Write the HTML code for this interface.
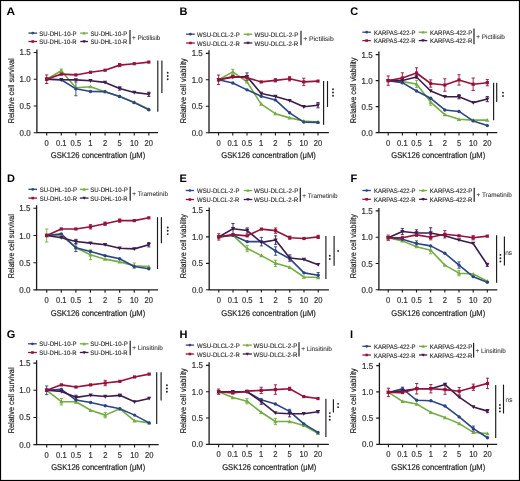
<!DOCTYPE html>
<html><head><meta charset="utf-8"><title>Figure</title>
<style>html,body{margin:0;padding:0;background:#fff;width:520px;height:481px;overflow:hidden}svg{display:block;font-family:"Liberation Sans",sans-serif;will-change:transform;text-rendering:geometricPrecision}</style>
</head><body>
<svg width="520" height="481" viewBox="0 0 520 481" font-family="Liberation Sans, sans-serif">
<rect x="0" y="0" width="520" height="481" fill="#fff"/>
<g><text x="6.4" y="14.6" font-size="11" fill="#000" textLength="8.6" lengthAdjust="spacingAndGlyphs" font-weight="bold">A</text>
<path d="M36.9 49.45V132.7H158" fill="none" stroke="#1a1a1a" stroke-width="1.3"/>
<path d="M33.7 132.7H36.9M33.7 105.95H36.9M33.7 79.2H36.9M33.7 52.45H36.9M46.7 132.7V135.5M61.29 132.7V135.5M75.88 132.7V135.5M90.47 132.7V135.5M105.06 132.7V135.5M119.65 132.7V135.5M134.24 132.7V135.5M148.83 132.7V135.5" stroke="#1a1a1a" stroke-width="1.1"/>
<text x="30.7" y="135.7" font-size="8.6" fill="#333" stroke="#333" stroke-width="0.2" text-anchor="end" textLength="11.12" lengthAdjust="spacingAndGlyphs">0.0</text>
<text x="30.7" y="108.95" font-size="8.6" fill="#333" stroke="#333" stroke-width="0.2" text-anchor="end" textLength="11.12" lengthAdjust="spacingAndGlyphs">0.5</text>
<text x="30.7" y="82.2" font-size="8.6" fill="#333" stroke="#333" stroke-width="0.2" text-anchor="end" textLength="11.12" lengthAdjust="spacingAndGlyphs">1.0</text>
<text x="30.7" y="55.45" font-size="8.6" fill="#333" stroke="#333" stroke-width="0.2" text-anchor="end" textLength="11.12" lengthAdjust="spacingAndGlyphs">1.5</text>
<text x="46.7" y="145.7" font-size="8.6" fill="#333" stroke="#333" stroke-width="0.2" text-anchor="middle" textLength="4.21" lengthAdjust="spacingAndGlyphs">0</text>
<text x="61.29" y="145.7" font-size="8.6" fill="#333" stroke="#333" stroke-width="0.2" text-anchor="middle" textLength="10.52" lengthAdjust="spacingAndGlyphs">0.1</text>
<text x="75.88" y="145.7" font-size="8.6" fill="#333" stroke="#333" stroke-width="0.2" text-anchor="middle" textLength="10.52" lengthAdjust="spacingAndGlyphs">0.5</text>
<text x="90.47" y="145.7" font-size="8.6" fill="#333" stroke="#333" stroke-width="0.2" text-anchor="middle" textLength="4.21" lengthAdjust="spacingAndGlyphs">1</text>
<text x="105.06" y="145.7" font-size="8.6" fill="#333" stroke="#333" stroke-width="0.2" text-anchor="middle" textLength="4.21" lengthAdjust="spacingAndGlyphs">2</text>
<text x="119.65" y="145.7" font-size="8.6" fill="#333" stroke="#333" stroke-width="0.2" text-anchor="middle" textLength="4.21" lengthAdjust="spacingAndGlyphs">5</text>
<text x="134.24" y="145.7" font-size="8.6" fill="#333" stroke="#333" stroke-width="0.2" text-anchor="middle" textLength="8.42" lengthAdjust="spacingAndGlyphs">10</text>
<text x="148.83" y="145.7" font-size="8.6" fill="#333" stroke="#333" stroke-width="0.2" text-anchor="middle" textLength="8.42" lengthAdjust="spacingAndGlyphs">20</text>
<text transform="translate(14 123.3) rotate(-90)" font-size="8.2" fill="#222" stroke="#222" stroke-width="0.2" textLength="65" lengthAdjust="spacingAndGlyphs">Relative cell survival</text>
<text x="50.8" y="158" font-size="8.4" fill="#222" stroke="#222" stroke-width="0.2" textLength="94.4" lengthAdjust="spacingAndGlyphs">GSK126 concentration (μM)</text>
<path d="M28.4 33.1H37.1" stroke="#2a4486" stroke-width="1.3"/>
<circle cx="32.75" cy="33.1" r="1.36" fill="#2a4486"/>
<text x="39.3" y="35.75" font-size="6.5" fill="#222" stroke="#222" stroke-width="0.1" textLength="37.3" lengthAdjust="spacingAndGlyphs">SU-DHL-10-P</text>
<path d="M80.2 33.1H88" stroke="#74ad41" stroke-width="1.3"/>
<path d="M84.1 31.42L85.78 34.44L82.42 34.44Z" fill="#74ad41"/>
<text x="90.4" y="35.75" font-size="6.5" fill="#222" stroke="#222" stroke-width="0.1" textLength="36.8" lengthAdjust="spacingAndGlyphs">SU-DHL-10-P</text>
<path d="M28.4 41.5H37.1" stroke="#961239" stroke-width="1.3"/>
<rect x="31.47" y="40.22" width="2.56" height="2.56" fill="#961239"/>
<text x="39.3" y="44.15" font-size="6.5" fill="#222" stroke="#222" stroke-width="0.1" textLength="37.3" lengthAdjust="spacingAndGlyphs">SU-DHL-10-R</text>
<path d="M80.2 41.5H88" stroke="#3c1b4e" stroke-width="1.3"/>
<path d="M84.1 43.18L85.78 40.16L82.42 40.16Z" fill="#3c1b4e"/>
<text x="90.4" y="44.15" font-size="6.5" fill="#222" stroke="#222" stroke-width="0.1" textLength="36.8" lengthAdjust="spacingAndGlyphs">SU-DHL-10-R</text>
<path d="M130 30V44.3" stroke="#222" stroke-width="1.2"/>
<text x="132" y="39.5" font-size="6.5" fill="#333" stroke="#333" stroke-width="0.08" textLength="28.4" lengthAdjust="spacingAndGlyphs">+ Pictilisib</text>
<polyline points="46.7,79.2 61.29,70.69 75.88,87.76 90.47,86.69 105.06,91.67 119.65,96.43 134.24,102.2 148.83,109.16" fill="none" stroke="#74ad41" stroke-width="1.6" stroke-linejoin="round"/>
<polyline points="46.7,79.2 61.29,79.73 75.88,88.83 90.47,91.5 105.06,91.67 119.65,96.43 134.24,102.63 148.83,109.69" fill="none" stroke="#2a4486" stroke-width="1.6" stroke-linejoin="round"/>
<polyline points="46.7,79.2 61.29,79.73 75.88,79.9 90.47,80.8 105.06,82.41 119.65,88.51 134.24,92.41 148.83,94.29" fill="none" stroke="#3c1b4e" stroke-width="1.6" stroke-linejoin="round"/>
<polyline points="46.7,79.2 61.29,74.12 75.88,74.92 90.47,72.25 105.06,70.21 119.65,65.13 134.24,63.68 148.83,62.08" fill="none" stroke="#961239" stroke-width="1.6" stroke-linejoin="round"/>
<path d="M46.7 74.92V83.48M45.1 74.92H48.3M45.1 83.48H48.3" stroke="#961239" stroke-width="0.9" fill="none"/>
<path d="M75.88 81.88V95.78M74.28 81.88H77.48M74.28 95.78H77.48" stroke="#2a4486" stroke-width="0.9" fill="none"/>
<path d="M148.83 92.15V96.43M147.23 92.15H150.43M147.23 96.43H150.43" stroke="#3c1b4e" stroke-width="0.9" fill="none"/>
<path d="M119.65 63.52V66.73M118.05 63.52H121.25M118.05 66.73H121.25" stroke="#961239" stroke-width="0.9" fill="none"/>
<path d="M61.29 69.09V72.3M59.69 69.09H62.89M59.69 72.3H62.89" stroke="#74ad41" stroke-width="0.9" fill="none"/>
<path d="M119.65 86.9V90.11M118.05 86.9H121.25M118.05 90.11H121.25" stroke="#3c1b4e" stroke-width="0.9" fill="none"/>
<path d="M46.7 77.1L48.8 80.88L44.6 80.88Z" fill="#74ad41"/>
<path d="M61.29 68.59L63.39 72.37L59.19 72.37Z" fill="#74ad41"/>
<path d="M75.88 85.66L77.98 89.44L73.78 89.44Z" fill="#74ad41"/>
<path d="M90.47 84.59L92.57 88.37L88.37 88.37Z" fill="#74ad41"/>
<path d="M105.06 89.57L107.16 93.35L102.96 93.35Z" fill="#74ad41"/>
<path d="M119.65 94.33L121.75 98.11L117.55 98.11Z" fill="#74ad41"/>
<path d="M134.24 100.1L136.34 103.88L132.14 103.88Z" fill="#74ad41"/>
<path d="M148.83 107.06L150.93 110.84L146.73 110.84Z" fill="#74ad41"/>
<circle cx="46.7" cy="79.2" r="1.7" fill="#2a4486"/>
<circle cx="61.29" cy="79.73" r="1.7" fill="#2a4486"/>
<circle cx="75.88" cy="88.83" r="1.7" fill="#2a4486"/>
<circle cx="90.47" cy="91.5" r="1.7" fill="#2a4486"/>
<circle cx="105.06" cy="91.67" r="1.7" fill="#2a4486"/>
<circle cx="119.65" cy="96.43" r="1.7" fill="#2a4486"/>
<circle cx="134.24" cy="102.63" r="1.7" fill="#2a4486"/>
<circle cx="148.83" cy="109.69" r="1.7" fill="#2a4486"/>
<path d="M46.7 81.3L48.8 77.52L44.6 77.52Z" fill="#3c1b4e"/>
<path d="M61.29 81.83L63.39 78.05L59.19 78.05Z" fill="#3c1b4e"/>
<path d="M75.88 82L77.98 78.22L73.78 78.22Z" fill="#3c1b4e"/>
<path d="M90.47 82.9L92.57 79.12L88.37 79.12Z" fill="#3c1b4e"/>
<path d="M105.06 84.51L107.16 80.73L102.96 80.73Z" fill="#3c1b4e"/>
<path d="M119.65 90.61L121.75 86.83L117.55 86.83Z" fill="#3c1b4e"/>
<path d="M134.24 94.51L136.34 90.73L132.14 90.73Z" fill="#3c1b4e"/>
<path d="M148.83 96.39L150.93 92.61L146.73 92.61Z" fill="#3c1b4e"/>
<rect x="45.1" y="77.6" width="3.2" height="3.2" fill="#961239"/>
<rect x="59.69" y="72.52" width="3.2" height="3.2" fill="#961239"/>
<rect x="74.28" y="73.32" width="3.2" height="3.2" fill="#961239"/>
<rect x="88.87" y="70.65" width="3.2" height="3.2" fill="#961239"/>
<rect x="103.46" y="68.61" width="3.2" height="3.2" fill="#961239"/>
<rect x="118.05" y="63.53" width="3.2" height="3.2" fill="#961239"/>
<rect x="132.64" y="62.08" width="3.2" height="3.2" fill="#961239"/>
<rect x="147.23" y="60.48" width="3.2" height="3.2" fill="#961239"/>
<path d="M157.8 60.6V111.7" stroke="#1a1a1a" stroke-width="1.15"/>
<path d="M161.9 60.6V93" stroke="#1a1a1a" stroke-width="1.15"/>
<circle cx="167.7" cy="72.7" r="0.95" fill="#222"/>
<circle cx="167.7" cy="76" r="0.95" fill="#222"/>
<circle cx="167.7" cy="79.3" r="0.95" fill="#222"/></g>
<g><text x="179.4" y="14.6" font-size="11" fill="#000" font-weight="bold">B</text>
<path d="M209 50.35V132.7H328.8" fill="none" stroke="#1a1a1a" stroke-width="1.3"/>
<path d="M205.8 132.7H209M205.8 106.25H209M205.8 79.8H209M205.8 53.35H209M218.6 132.7V135.5M232.8 132.7V135.5M247 132.7V135.5M261.2 132.7V135.5M275.4 132.7V135.5M289.6 132.7V135.5M303.8 132.7V135.5M318 132.7V135.5" stroke="#1a1a1a" stroke-width="1.1"/>
<text x="202.8" y="135.7" font-size="8.6" fill="#333" stroke="#333" stroke-width="0.2" text-anchor="end" textLength="11.12" lengthAdjust="spacingAndGlyphs">0.0</text>
<text x="202.8" y="109.25" font-size="8.6" fill="#333" stroke="#333" stroke-width="0.2" text-anchor="end" textLength="11.12" lengthAdjust="spacingAndGlyphs">0.5</text>
<text x="202.8" y="82.8" font-size="8.6" fill="#333" stroke="#333" stroke-width="0.2" text-anchor="end" textLength="11.12" lengthAdjust="spacingAndGlyphs">1.0</text>
<text x="202.8" y="56.35" font-size="8.6" fill="#333" stroke="#333" stroke-width="0.2" text-anchor="end" textLength="11.12" lengthAdjust="spacingAndGlyphs">1.5</text>
<text x="218.6" y="145.7" font-size="8.6" fill="#333" stroke="#333" stroke-width="0.2" text-anchor="middle" textLength="4.21" lengthAdjust="spacingAndGlyphs">0</text>
<text x="232.8" y="145.7" font-size="8.6" fill="#333" stroke="#333" stroke-width="0.2" text-anchor="middle" textLength="10.52" lengthAdjust="spacingAndGlyphs">0.1</text>
<text x="247" y="145.7" font-size="8.6" fill="#333" stroke="#333" stroke-width="0.2" text-anchor="middle" textLength="10.52" lengthAdjust="spacingAndGlyphs">0.5</text>
<text x="261.2" y="145.7" font-size="8.6" fill="#333" stroke="#333" stroke-width="0.2" text-anchor="middle" textLength="4.21" lengthAdjust="spacingAndGlyphs">1</text>
<text x="275.4" y="145.7" font-size="8.6" fill="#333" stroke="#333" stroke-width="0.2" text-anchor="middle" textLength="4.21" lengthAdjust="spacingAndGlyphs">2</text>
<text x="289.6" y="145.7" font-size="8.6" fill="#333" stroke="#333" stroke-width="0.2" text-anchor="middle" textLength="4.21" lengthAdjust="spacingAndGlyphs">5</text>
<text x="303.8" y="145.7" font-size="8.6" fill="#333" stroke="#333" stroke-width="0.2" text-anchor="middle" textLength="8.42" lengthAdjust="spacingAndGlyphs">10</text>
<text x="318" y="145.7" font-size="8.6" fill="#333" stroke="#333" stroke-width="0.2" text-anchor="middle" textLength="8.42" lengthAdjust="spacingAndGlyphs">20</text>
<text transform="translate(186.3 123.2) rotate(-90)" font-size="8.2" fill="#222" stroke="#222" stroke-width="0.2" textLength="64.9" lengthAdjust="spacingAndGlyphs">Relative cell viability</text>
<text x="221.3" y="158" font-size="8.4" fill="#222" stroke="#222" stroke-width="0.2" textLength="94.6" lengthAdjust="spacingAndGlyphs">GSK126 concentration (μM)</text>
<path d="M186.1 34.2H194.8" stroke="#2a4486" stroke-width="1.3"/>
<circle cx="190.45" cy="34.2" r="1.36" fill="#2a4486"/>
<text x="197" y="36.85" font-size="6.5" fill="#222" stroke="#222" stroke-width="0.1" textLength="42.7" lengthAdjust="spacingAndGlyphs">WSU-DLCL-2-P</text>
<path d="M243.7 34.2H252.3" stroke="#74ad41" stroke-width="1.3"/>
<path d="M248 32.52L249.68 35.54L246.32 35.54Z" fill="#74ad41"/>
<text x="254.4" y="36.85" font-size="6.5" fill="#222" stroke="#222" stroke-width="0.1" textLength="43.9" lengthAdjust="spacingAndGlyphs">WSU-DLCL-2-P</text>
<path d="M186.1 43H194.8" stroke="#961239" stroke-width="1.3"/>
<rect x="189.17" y="41.72" width="2.56" height="2.56" fill="#961239"/>
<text x="197" y="45.65" font-size="6.5" fill="#222" stroke="#222" stroke-width="0.1" textLength="42.7" lengthAdjust="spacingAndGlyphs">WSU-DLCL-2-R</text>
<path d="M243.7 43H252.3" stroke="#3c1b4e" stroke-width="1.3"/>
<path d="M248 44.68L249.68 41.66L246.32 41.66Z" fill="#3c1b4e"/>
<text x="254.4" y="45.65" font-size="6.5" fill="#222" stroke="#222" stroke-width="0.1" textLength="43.9" lengthAdjust="spacingAndGlyphs">WSU-DLCL-2-R</text>
<path d="M301 30.8V45.2" stroke="#222" stroke-width="1.2"/>
<text x="303.2" y="40.8" font-size="6.5" fill="#333" stroke="#333" stroke-width="0.08" textLength="30.5" lengthAdjust="spacingAndGlyphs">+ Pictilisib</text>
<polyline points="218.6,79.8 232.8,71.86 247,81.92 261.2,104.13 275.4,113.66 289.6,117.89 303.8,121.06 318,122.12" fill="none" stroke="#74ad41" stroke-width="1.6" stroke-linejoin="round"/>
<polyline points="218.6,79.8 232.8,82.97 247,89.85 261.2,96.2 275.4,99.9 289.6,112.81 303.8,122.12 318,122.38" fill="none" stroke="#2a4486" stroke-width="1.6" stroke-linejoin="round"/>
<polyline points="218.6,79.8 232.8,77.15 247,76.63 261.2,93.55 275.4,96.41 289.6,100.59 303.8,106.78 318,105.19" fill="none" stroke="#3c1b4e" stroke-width="1.6" stroke-linejoin="round"/>
<polyline points="218.6,79.8 232.8,76.63 247,77.68 261.2,81.92 275.4,80.33 289.6,78.74 303.8,81.92 318,81.12" fill="none" stroke="#961239" stroke-width="1.6" stroke-linejoin="round"/>
<path d="M218.6 75.04V84.56M217 75.04H220.2M217 84.56H220.2" stroke="#961239" stroke-width="0.9" fill="none"/>
<path d="M232.8 69.22V74.51M231.2 69.22H234.4M231.2 74.51H234.4" stroke="#74ad41" stroke-width="0.9" fill="none"/>
<path d="M247 72.92V80.33M245.4 72.92H248.6M245.4 80.33H248.6" stroke="#3c1b4e" stroke-width="0.9" fill="none"/>
<path d="M303.8 78.21V85.62M302.2 78.21H305.4M302.2 85.62H305.4" stroke="#961239" stroke-width="0.9" fill="none"/>
<path d="M318 102.55V107.84M316.4 102.55H319.6M316.4 107.84H319.6" stroke="#3c1b4e" stroke-width="0.9" fill="none"/>
<path d="M289.6 76.63V80.86M288 76.63H291.2M288 80.86H291.2" stroke="#961239" stroke-width="0.9" fill="none"/>
<path d="M275.4 78.74V81.92M273.8 78.74H277M273.8 81.92H277" stroke="#961239" stroke-width="0.9" fill="none"/>
<path d="M218.6 77.7L220.7 81.48L216.5 81.48Z" fill="#74ad41"/>
<path d="M232.8 69.77L234.9 73.55L230.7 73.55Z" fill="#74ad41"/>
<path d="M247 79.82L249.1 83.6L244.9 83.6Z" fill="#74ad41"/>
<path d="M261.2 102.03L263.3 105.81L259.1 105.81Z" fill="#74ad41"/>
<path d="M275.4 111.56L277.5 115.34L273.3 115.34Z" fill="#74ad41"/>
<path d="M289.6 115.79L291.7 119.57L287.5 119.57Z" fill="#74ad41"/>
<path d="M303.8 118.96L305.9 122.74L301.7 122.74Z" fill="#74ad41"/>
<path d="M318 120.02L320.1 123.8L315.9 123.8Z" fill="#74ad41"/>
<circle cx="218.6" cy="79.8" r="1.7" fill="#2a4486"/>
<circle cx="232.8" cy="82.97" r="1.7" fill="#2a4486"/>
<circle cx="247" cy="89.85" r="1.7" fill="#2a4486"/>
<circle cx="261.2" cy="96.2" r="1.7" fill="#2a4486"/>
<circle cx="275.4" cy="99.9" r="1.7" fill="#2a4486"/>
<circle cx="289.6" cy="112.81" r="1.7" fill="#2a4486"/>
<circle cx="303.8" cy="122.12" r="1.7" fill="#2a4486"/>
<circle cx="318" cy="122.38" r="1.7" fill="#2a4486"/>
<path d="M218.6 81.9L220.7 78.12L216.5 78.12Z" fill="#3c1b4e"/>
<path d="M232.8 79.25L234.9 75.47L230.7 75.47Z" fill="#3c1b4e"/>
<path d="M247 78.73L249.1 74.95L244.9 74.95Z" fill="#3c1b4e"/>
<path d="M261.2 95.65L263.3 91.87L259.1 91.87Z" fill="#3c1b4e"/>
<path d="M275.4 98.51L277.5 94.73L273.3 94.73Z" fill="#3c1b4e"/>
<path d="M289.6 102.69L291.7 98.91L287.5 98.91Z" fill="#3c1b4e"/>
<path d="M303.8 108.88L305.9 105.1L301.7 105.1Z" fill="#3c1b4e"/>
<path d="M318 107.29L320.1 103.51L315.9 103.51Z" fill="#3c1b4e"/>
<rect x="217" y="78.2" width="3.2" height="3.2" fill="#961239"/>
<rect x="231.2" y="75.03" width="3.2" height="3.2" fill="#961239"/>
<rect x="245.4" y="76.08" width="3.2" height="3.2" fill="#961239"/>
<rect x="259.6" y="80.32" width="3.2" height="3.2" fill="#961239"/>
<rect x="273.8" y="78.73" width="3.2" height="3.2" fill="#961239"/>
<rect x="288" y="77.14" width="3.2" height="3.2" fill="#961239"/>
<rect x="302.2" y="80.32" width="3.2" height="3.2" fill="#961239"/>
<rect x="316.4" y="79.52" width="3.2" height="3.2" fill="#961239"/>
<path d="M323.6 81.1V124.8" stroke="#1a1a1a" stroke-width="1.15"/>
<path d="M327.5 81.1V106.9" stroke="#1a1a1a" stroke-width="1.15"/>
<circle cx="333" cy="89.2" r="0.95" fill="#222"/>
<circle cx="333" cy="92.5" r="0.95" fill="#222"/>
<circle cx="333" cy="95.8" r="0.95" fill="#222"/></g>
<g><text x="350.2" y="14.8" font-size="11" fill="#000" font-weight="bold">C</text>
<path d="M378.9 51.6V132.6H497.3" fill="none" stroke="#1a1a1a" stroke-width="1.3"/>
<path d="M375.7 132.6H378.9M375.7 106.6H378.9M375.7 80.6H378.9M375.7 54.6H378.9M388.2 132.6V135.4M402.36 132.6V135.4M416.52 132.6V135.4M430.68 132.6V135.4M444.84 132.6V135.4M459 132.6V135.4M473.16 132.6V135.4M487.32 132.6V135.4" stroke="#1a1a1a" stroke-width="1.1"/>
<text x="372.7" y="135.6" font-size="8.6" fill="#333" stroke="#333" stroke-width="0.2" text-anchor="end" textLength="11.12" lengthAdjust="spacingAndGlyphs">0.0</text>
<text x="372.7" y="109.6" font-size="8.6" fill="#333" stroke="#333" stroke-width="0.2" text-anchor="end" textLength="11.12" lengthAdjust="spacingAndGlyphs">0.5</text>
<text x="372.7" y="83.6" font-size="8.6" fill="#333" stroke="#333" stroke-width="0.2" text-anchor="end" textLength="11.12" lengthAdjust="spacingAndGlyphs">1.0</text>
<text x="372.7" y="57.6" font-size="8.6" fill="#333" stroke="#333" stroke-width="0.2" text-anchor="end" textLength="11.12" lengthAdjust="spacingAndGlyphs">1.5</text>
<text x="388.2" y="145.6" font-size="8.6" fill="#333" stroke="#333" stroke-width="0.2" text-anchor="middle" textLength="4.21" lengthAdjust="spacingAndGlyphs">0</text>
<text x="402.36" y="145.6" font-size="8.6" fill="#333" stroke="#333" stroke-width="0.2" text-anchor="middle" textLength="10.52" lengthAdjust="spacingAndGlyphs">0.1</text>
<text x="416.52" y="145.6" font-size="8.6" fill="#333" stroke="#333" stroke-width="0.2" text-anchor="middle" textLength="10.52" lengthAdjust="spacingAndGlyphs">0.5</text>
<text x="430.68" y="145.6" font-size="8.6" fill="#333" stroke="#333" stroke-width="0.2" text-anchor="middle" textLength="4.21" lengthAdjust="spacingAndGlyphs">1</text>
<text x="444.84" y="145.6" font-size="8.6" fill="#333" stroke="#333" stroke-width="0.2" text-anchor="middle" textLength="4.21" lengthAdjust="spacingAndGlyphs">2</text>
<text x="459" y="145.6" font-size="8.6" fill="#333" stroke="#333" stroke-width="0.2" text-anchor="middle" textLength="4.21" lengthAdjust="spacingAndGlyphs">5</text>
<text x="473.16" y="145.6" font-size="8.6" fill="#333" stroke="#333" stroke-width="0.2" text-anchor="middle" textLength="8.42" lengthAdjust="spacingAndGlyphs">10</text>
<text x="487.32" y="145.6" font-size="8.6" fill="#333" stroke="#333" stroke-width="0.2" text-anchor="middle" textLength="8.42" lengthAdjust="spacingAndGlyphs">20</text>
<text transform="translate(355.9 123.2) rotate(-90)" font-size="8.2" fill="#222" stroke="#222" stroke-width="0.2" textLength="65.7" lengthAdjust="spacingAndGlyphs">Relative cell viability</text>
<text x="391.3" y="158" font-size="8.4" fill="#222" stroke="#222" stroke-width="0.2" textLength="93.9" lengthAdjust="spacingAndGlyphs">GSK126 concentration (μM)</text>
<path d="M362.4 32.2H370.9" stroke="#2a4486" stroke-width="1.3"/>
<circle cx="366.65" cy="32.2" r="1.36" fill="#2a4486"/>
<text x="374" y="34.85" font-size="6.5" fill="#222" stroke="#222" stroke-width="0.1" textLength="41.4" lengthAdjust="spacingAndGlyphs">KARPAS-422-P</text>
<path d="M418.7 32.2H427.3" stroke="#74ad41" stroke-width="1.3"/>
<path d="M423 30.52L424.68 33.54L421.32 33.54Z" fill="#74ad41"/>
<text x="430" y="34.85" font-size="6.5" fill="#222" stroke="#222" stroke-width="0.1" textLength="42.3" lengthAdjust="spacingAndGlyphs">KARPAS-422-P</text>
<path d="M362.4 40.6H370.9" stroke="#961239" stroke-width="1.3"/>
<rect x="365.37" y="39.32" width="2.56" height="2.56" fill="#961239"/>
<text x="374" y="43.25" font-size="6.5" fill="#222" stroke="#222" stroke-width="0.1" textLength="41.4" lengthAdjust="spacingAndGlyphs">KARPAS-422-R</text>
<path d="M418.7 40.6H427.3" stroke="#3c1b4e" stroke-width="1.3"/>
<path d="M423 42.28L424.68 39.26L421.32 39.26Z" fill="#3c1b4e"/>
<text x="430" y="43.25" font-size="6.5" fill="#222" stroke="#222" stroke-width="0.1" textLength="42.3" lengthAdjust="spacingAndGlyphs">KARPAS-422-R</text>
<path d="M474 28.5V44.2" stroke="#222" stroke-width="1.2"/>
<text x="476.2" y="38.6" font-size="6.5" fill="#333" stroke="#333" stroke-width="0.08" textLength="28.7" lengthAdjust="spacingAndGlyphs">+ Pictilisib</text>
<polyline points="388.2,80.6 402.36,81.64 416.52,83.98 430.68,102.08 444.84,114.66 459,119.24 473.16,120.12 487.32,120.12" fill="none" stroke="#74ad41" stroke-width="1.6" stroke-linejoin="round"/>
<polyline points="388.2,80.6 402.36,82.68 416.52,91 430.68,98.28 444.84,109.93 459,111.44 473.16,120.9 487.32,125.58" fill="none" stroke="#2a4486" stroke-width="1.6" stroke-linejoin="round"/>
<polyline points="388.2,80.6 402.36,80.6 416.52,76.96 430.68,91 444.84,96.72 459,96.72 473.16,102.6 487.32,99.06" fill="none" stroke="#3c1b4e" stroke-width="1.6" stroke-linejoin="round"/>
<polyline points="388.2,80.6 402.36,78 416.52,73.01 430.68,83.51 444.84,85.02 459,79.92 473.16,84.24 487.32,82.68" fill="none" stroke="#961239" stroke-width="1.6" stroke-linejoin="round"/>
<path d="M388.2 75.92V85.28M386.6 75.92H389.8M386.6 85.28H389.8" stroke="#961239" stroke-width="0.9" fill="none"/>
<path d="M402.36 72.8V83.2M400.76 72.8H403.96M400.76 83.2H403.96" stroke="#961239" stroke-width="0.9" fill="none"/>
<path d="M416.52 67.81V78.21M414.92 67.81H418.12M414.92 78.21H418.12" stroke="#961239" stroke-width="0.9" fill="none"/>
<path d="M416.52 80.34V87.62M414.92 80.34H418.12M414.92 87.62H418.12" stroke="#74ad41" stroke-width="0.9" fill="none"/>
<path d="M430.68 79.87V87.15M429.08 79.87H432.28M429.08 87.15H432.28" stroke="#961239" stroke-width="0.9" fill="none"/>
<path d="M430.68 98.96V105.2M429.08 98.96H432.28M429.08 105.2H432.28" stroke="#74ad41" stroke-width="0.9" fill="none"/>
<path d="M444.84 78.78V91.26M443.24 78.78H446.44M443.24 91.26H446.44" stroke="#961239" stroke-width="0.9" fill="none"/>
<path d="M459 74.72V85.12M457.4 74.72H460.6M457.4 85.12H460.6" stroke="#961239" stroke-width="0.9" fill="none"/>
<path d="M473.16 78V90.48M471.56 78H474.76M471.56 90.48H474.76" stroke="#961239" stroke-width="0.9" fill="none"/>
<path d="M487.32 79.56V85.8M485.72 79.56H488.92M485.72 85.8H488.92" stroke="#961239" stroke-width="0.9" fill="none"/>
<path d="M487.32 96.46V101.66M485.72 96.46H488.92M485.72 101.66H488.92" stroke="#3c1b4e" stroke-width="0.9" fill="none"/>
<path d="M459 94.64V98.8M457.4 94.64H460.6M457.4 98.8H460.6" stroke="#3c1b4e" stroke-width="0.9" fill="none"/>
<path d="M388.2 78.5L390.3 82.28L386.1 82.28Z" fill="#74ad41"/>
<path d="M402.36 79.54L404.46 83.32L400.26 83.32Z" fill="#74ad41"/>
<path d="M416.52 81.88L418.62 85.66L414.42 85.66Z" fill="#74ad41"/>
<path d="M430.68 99.98L432.78 103.76L428.58 103.76Z" fill="#74ad41"/>
<path d="M444.84 112.56L446.94 116.34L442.74 116.34Z" fill="#74ad41"/>
<path d="M459 117.14L461.1 120.92L456.9 120.92Z" fill="#74ad41"/>
<path d="M473.16 118.02L475.26 121.8L471.06 121.8Z" fill="#74ad41"/>
<path d="M487.32 118.02L489.42 121.8L485.22 121.8Z" fill="#74ad41"/>
<circle cx="388.2" cy="80.6" r="1.7" fill="#2a4486"/>
<circle cx="402.36" cy="82.68" r="1.7" fill="#2a4486"/>
<circle cx="416.52" cy="91" r="1.7" fill="#2a4486"/>
<circle cx="430.68" cy="98.28" r="1.7" fill="#2a4486"/>
<circle cx="444.84" cy="109.93" r="1.7" fill="#2a4486"/>
<circle cx="459" cy="111.44" r="1.7" fill="#2a4486"/>
<circle cx="473.16" cy="120.9" r="1.7" fill="#2a4486"/>
<circle cx="487.32" cy="125.58" r="1.7" fill="#2a4486"/>
<path d="M388.2 82.7L390.3 78.92L386.1 78.92Z" fill="#3c1b4e"/>
<path d="M402.36 82.7L404.46 78.92L400.26 78.92Z" fill="#3c1b4e"/>
<path d="M416.52 79.06L418.62 75.28L414.42 75.28Z" fill="#3c1b4e"/>
<path d="M430.68 93.1L432.78 89.32L428.58 89.32Z" fill="#3c1b4e"/>
<path d="M444.84 98.82L446.94 95.04L442.74 95.04Z" fill="#3c1b4e"/>
<path d="M459 98.82L461.1 95.04L456.9 95.04Z" fill="#3c1b4e"/>
<path d="M473.16 104.7L475.26 100.92L471.06 100.92Z" fill="#3c1b4e"/>
<path d="M487.32 101.16L489.42 97.38L485.22 97.38Z" fill="#3c1b4e"/>
<rect x="386.6" y="79" width="3.2" height="3.2" fill="#961239"/>
<rect x="400.76" y="76.4" width="3.2" height="3.2" fill="#961239"/>
<rect x="414.92" y="71.41" width="3.2" height="3.2" fill="#961239"/>
<rect x="429.08" y="81.91" width="3.2" height="3.2" fill="#961239"/>
<rect x="443.24" y="83.42" width="3.2" height="3.2" fill="#961239"/>
<rect x="457.4" y="78.32" width="3.2" height="3.2" fill="#961239"/>
<rect x="471.56" y="82.64" width="3.2" height="3.2" fill="#961239"/>
<rect x="485.72" y="81.08" width="3.2" height="3.2" fill="#961239"/>
<path d="M493.6 82.7V120.2" stroke="#1a1a1a" stroke-width="1.15"/>
<path d="M496.7 82.7V101.9" stroke="#1a1a1a" stroke-width="1.15"/>
<circle cx="503" cy="92.65" r="0.95" fill="#222"/>
<circle cx="503" cy="95.95" r="0.95" fill="#222"/></g>
<g><text x="7" y="181.5" font-size="11" fill="#000" font-weight="bold">D</text>
<path d="M36.6 205.3V289.9H158" fill="none" stroke="#1a1a1a" stroke-width="1.3"/>
<path d="M33.4 289.9H36.6M33.4 262.7H36.6M33.4 235.5H36.6M33.4 208.3H36.6M46.7 289.9V292.7M61.29 289.9V292.7M75.88 289.9V292.7M90.47 289.9V292.7M105.06 289.9V292.7M119.65 289.9V292.7M134.24 289.9V292.7M148.83 289.9V292.7" stroke="#1a1a1a" stroke-width="1.1"/>
<text x="30.4" y="292.9" font-size="8.6" fill="#333" stroke="#333" stroke-width="0.2" text-anchor="end" textLength="11.12" lengthAdjust="spacingAndGlyphs">0.0</text>
<text x="30.4" y="265.7" font-size="8.6" fill="#333" stroke="#333" stroke-width="0.2" text-anchor="end" textLength="11.12" lengthAdjust="spacingAndGlyphs">0.5</text>
<text x="30.4" y="238.5" font-size="8.6" fill="#333" stroke="#333" stroke-width="0.2" text-anchor="end" textLength="11.12" lengthAdjust="spacingAndGlyphs">1.0</text>
<text x="30.4" y="211.3" font-size="8.6" fill="#333" stroke="#333" stroke-width="0.2" text-anchor="end" textLength="11.12" lengthAdjust="spacingAndGlyphs">1.5</text>
<text x="46.7" y="302.9" font-size="8.6" fill="#333" stroke="#333" stroke-width="0.2" text-anchor="middle" textLength="4.21" lengthAdjust="spacingAndGlyphs">0</text>
<text x="61.29" y="302.9" font-size="8.6" fill="#333" stroke="#333" stroke-width="0.2" text-anchor="middle" textLength="10.52" lengthAdjust="spacingAndGlyphs">0.1</text>
<text x="75.88" y="302.9" font-size="8.6" fill="#333" stroke="#333" stroke-width="0.2" text-anchor="middle" textLength="10.52" lengthAdjust="spacingAndGlyphs">0.5</text>
<text x="90.47" y="302.9" font-size="8.6" fill="#333" stroke="#333" stroke-width="0.2" text-anchor="middle" textLength="4.21" lengthAdjust="spacingAndGlyphs">1</text>
<text x="105.06" y="302.9" font-size="8.6" fill="#333" stroke="#333" stroke-width="0.2" text-anchor="middle" textLength="4.21" lengthAdjust="spacingAndGlyphs">2</text>
<text x="119.65" y="302.9" font-size="8.6" fill="#333" stroke="#333" stroke-width="0.2" text-anchor="middle" textLength="4.21" lengthAdjust="spacingAndGlyphs">5</text>
<text x="134.24" y="302.9" font-size="8.6" fill="#333" stroke="#333" stroke-width="0.2" text-anchor="middle" textLength="8.42" lengthAdjust="spacingAndGlyphs">10</text>
<text x="148.83" y="302.9" font-size="8.6" fill="#333" stroke="#333" stroke-width="0.2" text-anchor="middle" textLength="8.42" lengthAdjust="spacingAndGlyphs">20</text>
<text transform="translate(14.3 278.2) rotate(-90)" font-size="8.2" fill="#222" stroke="#222" stroke-width="0.2" textLength="64" lengthAdjust="spacingAndGlyphs">Relative cell survival</text>
<text x="50.8" y="315.5" font-size="8.4" fill="#222" stroke="#222" stroke-width="0.2" textLength="94.4" lengthAdjust="spacingAndGlyphs">GSK126 concentration (μM)</text>
<path d="M28.4 189.3H37.1" stroke="#2a4486" stroke-width="1.3"/>
<circle cx="32.75" cy="189.3" r="1.36" fill="#2a4486"/>
<text x="39.7" y="191.95" font-size="6.5" fill="#222" stroke="#222" stroke-width="0.1" textLength="37.3" lengthAdjust="spacingAndGlyphs">SU-DHL-10-P</text>
<path d="M79.8 189.3H88.5" stroke="#74ad41" stroke-width="1.3"/>
<path d="M84.15 187.62L85.83 190.64L82.47 190.64Z" fill="#74ad41"/>
<text x="90.2" y="191.95" font-size="6.5" fill="#222" stroke="#222" stroke-width="0.1" textLength="37.5" lengthAdjust="spacingAndGlyphs">SU-DHL-10-P</text>
<path d="M28.4 198.1H37.1" stroke="#961239" stroke-width="1.3"/>
<rect x="31.47" y="196.82" width="2.56" height="2.56" fill="#961239"/>
<text x="39.7" y="200.75" font-size="6.5" fill="#222" stroke="#222" stroke-width="0.1" textLength="37.3" lengthAdjust="spacingAndGlyphs">SU-DHL-10-R</text>
<path d="M79.8 198.1H88.5" stroke="#3c1b4e" stroke-width="1.3"/>
<path d="M84.15 199.78L85.83 196.76L82.47 196.76Z" fill="#3c1b4e"/>
<text x="90.2" y="200.75" font-size="6.5" fill="#222" stroke="#222" stroke-width="0.1" textLength="37.5" lengthAdjust="spacingAndGlyphs">SU-DHL-10-R</text>
<path d="M130.2 186.7V200.8" stroke="#222" stroke-width="1.2"/>
<text x="132.2" y="196" font-size="6.5" fill="#333" stroke="#333" stroke-width="0.08" textLength="35.8" lengthAdjust="spacingAndGlyphs">+ Trametinib</text>
<polyline points="46.7,235.5 61.29,235.5 75.88,247.74 90.47,254.81 105.06,259.16 119.65,261.88 134.24,265.69 148.83,266.51" fill="none" stroke="#74ad41" stroke-width="1.6" stroke-linejoin="round"/>
<polyline points="46.7,235.5 61.29,233.87 75.88,247.74 90.47,251.55 105.06,255.63 119.65,258.73 134.24,266.51 148.83,268.68" fill="none" stroke="#2a4486" stroke-width="1.6" stroke-linejoin="round"/>
<polyline points="46.7,235.5 61.29,237.68 75.88,241.48 90.47,243.12 105.06,244.75 119.65,248.28 134.24,248.88 148.83,244.75" fill="none" stroke="#3c1b4e" stroke-width="1.6" stroke-linejoin="round"/>
<polyline points="46.7,235.5 61.29,228.97 75.88,228.97 90.47,226.8 105.06,223.7 119.65,220.59 134.24,220.59 148.83,217.82" fill="none" stroke="#961239" stroke-width="1.6" stroke-linejoin="round"/>
<path d="M46.7 228.97V242.03M45.1 228.97H48.3M45.1 242.03H48.3" stroke="#74ad41" stroke-width="0.9" fill="none"/>
<path d="M75.88 243.93V251.55M74.28 243.93H77.48M74.28 251.55H77.48" stroke="#2a4486" stroke-width="0.9" fill="none"/>
<path d="M90.47 249.92V259.71M88.87 249.92H92.07M88.87 259.71H92.07" stroke="#74ad41" stroke-width="0.9" fill="none"/>
<path d="M90.47 224.62V228.97M88.87 224.62H92.07M88.87 228.97H92.07" stroke="#961239" stroke-width="0.9" fill="none"/>
<path d="M134.24 262.97V268.41M132.64 262.97H135.84M132.64 268.41H135.84" stroke="#74ad41" stroke-width="0.9" fill="none"/>
<path d="M148.83 242.57V246.92M147.23 242.57H150.43M147.23 246.92H150.43" stroke="#3c1b4e" stroke-width="0.9" fill="none"/>
<path d="M105.06 222.06V225.33M103.46 222.06H106.66M103.46 225.33H106.66" stroke="#961239" stroke-width="0.9" fill="none"/>
<path d="M119.65 218.96V222.23M118.05 218.96H121.25M118.05 222.23H121.25" stroke="#961239" stroke-width="0.9" fill="none"/>
<path d="M75.88 239.31V243.66M74.28 239.31H77.48M74.28 243.66H77.48" stroke="#3c1b4e" stroke-width="0.9" fill="none"/>
<path d="M46.7 233.4L48.8 237.18L44.6 237.18Z" fill="#74ad41"/>
<path d="M61.29 233.4L63.39 237.18L59.19 237.18Z" fill="#74ad41"/>
<path d="M75.88 245.64L77.98 249.42L73.78 249.42Z" fill="#74ad41"/>
<path d="M90.47 252.71L92.57 256.49L88.37 256.49Z" fill="#74ad41"/>
<path d="M105.06 257.06L107.16 260.84L102.96 260.84Z" fill="#74ad41"/>
<path d="M119.65 259.78L121.75 263.56L117.55 263.56Z" fill="#74ad41"/>
<path d="M134.24 263.59L136.34 267.37L132.14 267.37Z" fill="#74ad41"/>
<path d="M148.83 264.41L150.93 268.19L146.73 268.19Z" fill="#74ad41"/>
<circle cx="46.7" cy="235.5" r="1.7" fill="#2a4486"/>
<circle cx="61.29" cy="233.87" r="1.7" fill="#2a4486"/>
<circle cx="75.88" cy="247.74" r="1.7" fill="#2a4486"/>
<circle cx="90.47" cy="251.55" r="1.7" fill="#2a4486"/>
<circle cx="105.06" cy="255.63" r="1.7" fill="#2a4486"/>
<circle cx="119.65" cy="258.73" r="1.7" fill="#2a4486"/>
<circle cx="134.24" cy="266.51" r="1.7" fill="#2a4486"/>
<circle cx="148.83" cy="268.68" r="1.7" fill="#2a4486"/>
<path d="M46.7 237.6L48.8 233.82L44.6 233.82Z" fill="#3c1b4e"/>
<path d="M61.29 239.78L63.39 236L59.19 236Z" fill="#3c1b4e"/>
<path d="M75.88 243.58L77.98 239.8L73.78 239.8Z" fill="#3c1b4e"/>
<path d="M90.47 245.22L92.57 241.44L88.37 241.44Z" fill="#3c1b4e"/>
<path d="M105.06 246.85L107.16 243.07L102.96 243.07Z" fill="#3c1b4e"/>
<path d="M119.65 250.38L121.75 246.6L117.55 246.6Z" fill="#3c1b4e"/>
<path d="M134.24 250.98L136.34 247.2L132.14 247.2Z" fill="#3c1b4e"/>
<path d="M148.83 246.85L150.93 243.07L146.73 243.07Z" fill="#3c1b4e"/>
<rect x="45.1" y="233.9" width="3.2" height="3.2" fill="#961239"/>
<rect x="59.69" y="227.37" width="3.2" height="3.2" fill="#961239"/>
<rect x="74.28" y="227.37" width="3.2" height="3.2" fill="#961239"/>
<rect x="88.87" y="225.2" width="3.2" height="3.2" fill="#961239"/>
<rect x="103.46" y="222.1" width="3.2" height="3.2" fill="#961239"/>
<rect x="118.05" y="218.99" width="3.2" height="3.2" fill="#961239"/>
<rect x="132.64" y="218.99" width="3.2" height="3.2" fill="#961239"/>
<rect x="147.23" y="216.22" width="3.2" height="3.2" fill="#961239"/>
<path d="M157.5 217.2V269.1" stroke="#1a1a1a" stroke-width="1.15"/>
<path d="M161.4 217.2V243.3" stroke="#1a1a1a" stroke-width="1.15"/>
<circle cx="167.7" cy="227.5" r="0.95" fill="#222"/>
<circle cx="167.7" cy="230.8" r="0.95" fill="#222"/>
<circle cx="167.7" cy="234.1" r="0.95" fill="#222"/></g>
<g><text x="179.6" y="181.5" font-size="11" fill="#000" font-weight="bold">E</text>
<path d="M209.2 207.45V289.8H328.9" fill="none" stroke="#1a1a1a" stroke-width="1.3"/>
<path d="M206 289.8H209.2M206 263.35H209.2M206 236.9H209.2M206 210.45H209.2M218.8 289.8V292.6M233 289.8V292.6M247.2 289.8V292.6M261.4 289.8V292.6M275.6 289.8V292.6M289.8 289.8V292.6M304 289.8V292.6M318.2 289.8V292.6" stroke="#1a1a1a" stroke-width="1.1"/>
<text x="203" y="292.8" font-size="8.6" fill="#333" stroke="#333" stroke-width="0.2" text-anchor="end" textLength="11.12" lengthAdjust="spacingAndGlyphs">0.0</text>
<text x="203" y="266.35" font-size="8.6" fill="#333" stroke="#333" stroke-width="0.2" text-anchor="end" textLength="11.12" lengthAdjust="spacingAndGlyphs">0.5</text>
<text x="203" y="239.9" font-size="8.6" fill="#333" stroke="#333" stroke-width="0.2" text-anchor="end" textLength="11.12" lengthAdjust="spacingAndGlyphs">1.0</text>
<text x="203" y="213.45" font-size="8.6" fill="#333" stroke="#333" stroke-width="0.2" text-anchor="end" textLength="11.12" lengthAdjust="spacingAndGlyphs">1.5</text>
<text x="218.8" y="302.8" font-size="8.6" fill="#333" stroke="#333" stroke-width="0.2" text-anchor="middle" textLength="4.21" lengthAdjust="spacingAndGlyphs">0</text>
<text x="233" y="302.8" font-size="8.6" fill="#333" stroke="#333" stroke-width="0.2" text-anchor="middle" textLength="10.52" lengthAdjust="spacingAndGlyphs">0.1</text>
<text x="247.2" y="302.8" font-size="8.6" fill="#333" stroke="#333" stroke-width="0.2" text-anchor="middle" textLength="10.52" lengthAdjust="spacingAndGlyphs">0.5</text>
<text x="261.4" y="302.8" font-size="8.6" fill="#333" stroke="#333" stroke-width="0.2" text-anchor="middle" textLength="4.21" lengthAdjust="spacingAndGlyphs">1</text>
<text x="275.6" y="302.8" font-size="8.6" fill="#333" stroke="#333" stroke-width="0.2" text-anchor="middle" textLength="4.21" lengthAdjust="spacingAndGlyphs">2</text>
<text x="289.8" y="302.8" font-size="8.6" fill="#333" stroke="#333" stroke-width="0.2" text-anchor="middle" textLength="4.21" lengthAdjust="spacingAndGlyphs">5</text>
<text x="304" y="302.8" font-size="8.6" fill="#333" stroke="#333" stroke-width="0.2" text-anchor="middle" textLength="8.42" lengthAdjust="spacingAndGlyphs">10</text>
<text x="318.2" y="302.8" font-size="8.6" fill="#333" stroke="#333" stroke-width="0.2" text-anchor="middle" textLength="8.42" lengthAdjust="spacingAndGlyphs">20</text>
<text transform="translate(186.3 278.2) rotate(-90)" font-size="8.2" fill="#222" stroke="#222" stroke-width="0.2" textLength="64" lengthAdjust="spacingAndGlyphs">Relative cell viability</text>
<text x="221.3" y="315.5" font-size="8.4" fill="#222" stroke="#222" stroke-width="0.2" textLength="94.6" lengthAdjust="spacingAndGlyphs">GSK126 concentration (μM)</text>
<path d="M185.7 190.5H194.1" stroke="#2a4486" stroke-width="1.3"/>
<circle cx="189.9" cy="190.5" r="1.36" fill="#2a4486"/>
<text x="197" y="193.15" font-size="6.5" fill="#222" stroke="#222" stroke-width="0.1" textLength="42.4" lengthAdjust="spacingAndGlyphs">WSU-DLCL-2-P</text>
<path d="M243.7 190.5H252.3" stroke="#74ad41" stroke-width="1.3"/>
<path d="M248 188.82L249.68 191.84L246.32 191.84Z" fill="#74ad41"/>
<text x="254" y="193.15" font-size="6.5" fill="#222" stroke="#222" stroke-width="0.1" textLength="44.3" lengthAdjust="spacingAndGlyphs">WSU-DLCL-2-P</text>
<path d="M185.7 199.5H194.1" stroke="#961239" stroke-width="1.3"/>
<rect x="188.62" y="198.22" width="2.56" height="2.56" fill="#961239"/>
<text x="197" y="202.15" font-size="6.5" fill="#222" stroke="#222" stroke-width="0.1" textLength="42.4" lengthAdjust="spacingAndGlyphs">WSU-DLCL-2-R</text>
<path d="M243.7 199.5H252.3" stroke="#3c1b4e" stroke-width="1.3"/>
<path d="M248 201.18L249.68 198.16L246.32 198.16Z" fill="#3c1b4e"/>
<text x="254" y="202.15" font-size="6.5" fill="#222" stroke="#222" stroke-width="0.1" textLength="44.3" lengthAdjust="spacingAndGlyphs">WSU-DLCL-2-R</text>
<path d="M300.3 187.8V201.8" stroke="#222" stroke-width="1.2"/>
<text x="302.3" y="197.6" font-size="6.5" fill="#333" stroke="#333" stroke-width="0.08" textLength="35.3" lengthAdjust="spacingAndGlyphs">+ Trametinib</text>
<polyline points="218.8,236.9 233,235.31 247.2,248.54 261.4,255.63 275.6,263.35 289.8,267.32 304,277 318.2,277.53" fill="none" stroke="#74ad41" stroke-width="1.6" stroke-linejoin="round"/>
<polyline points="218.8,236.9 233,235.31 247.2,241.66 261.4,241.66 275.6,251.02 289.8,258.69 304,272.87 318.2,275.2" fill="none" stroke="#2a4486" stroke-width="1.6" stroke-linejoin="round"/>
<polyline points="218.8,236.9 233,228.7 247.2,230.55 261.4,242.4 275.6,240.07 289.8,258.06 304,259.49 318.2,264.73" fill="none" stroke="#3c1b4e" stroke-width="1.6" stroke-linejoin="round"/>
<polyline points="218.8,236.9 233,234.63 247.2,235.84 261.4,229.12 275.6,230.66 289.8,237.69 304,238.49 318.2,236.9" fill="none" stroke="#961239" stroke-width="1.6" stroke-linejoin="round"/>
<path d="M218.8 233.73V240.07M217.2 233.73H220.4M217.2 240.07H220.4" stroke="#961239" stroke-width="0.9" fill="none"/>
<path d="M233 223.41V233.99M231.4 223.41H234.6M231.4 233.99H234.6" stroke="#3c1b4e" stroke-width="0.9" fill="none"/>
<path d="M247.2 227.91V233.2M245.6 227.91H248.8M245.6 233.2H248.8" stroke="#3c1b4e" stroke-width="0.9" fill="none"/>
<path d="M247.2 245.36V251.71M245.6 245.36H248.8M245.6 251.71H248.8" stroke="#74ad41" stroke-width="0.9" fill="none"/>
<path d="M261.4 237.43V245.89M259.8 237.43H263M259.8 245.89H263" stroke="#2a4486" stroke-width="0.9" fill="none"/>
<path d="M275.6 235.84V244.31M274 235.84H277.2M274 244.31H277.2" stroke="#3c1b4e" stroke-width="0.9" fill="none"/>
<path d="M275.6 246.79V255.26M274 246.79H277.2M274 255.26H277.2" stroke="#2a4486" stroke-width="0.9" fill="none"/>
<path d="M275.6 260.18V266.52M274 260.18H277.2M274 266.52H277.2" stroke="#74ad41" stroke-width="0.9" fill="none"/>
<path d="M275.6 228.01V233.3M274 228.01H277.2M274 233.3H277.2" stroke="#961239" stroke-width="0.9" fill="none"/>
<path d="M289.8 254.89V261.23M288.2 254.89H291.4M288.2 261.23H291.4" stroke="#3c1b4e" stroke-width="0.9" fill="none"/>
<path d="M318.2 272.55V277.84M316.6 272.55H319.8M316.6 277.84H319.8" stroke="#2a4486" stroke-width="0.9" fill="none"/>
<path d="M318.2 235.31V238.49M316.6 235.31H319.8M316.6 238.49H319.8" stroke="#961239" stroke-width="0.9" fill="none"/>
<path d="M289.8 236.11V239.28M288.2 236.11H291.4M288.2 239.28H291.4" stroke="#961239" stroke-width="0.9" fill="none"/>
<path d="M218.8 234.8L220.9 238.58L216.7 238.58Z" fill="#74ad41"/>
<path d="M233 233.21L235.1 236.99L230.9 236.99Z" fill="#74ad41"/>
<path d="M247.2 246.44L249.3 250.22L245.1 250.22Z" fill="#74ad41"/>
<path d="M261.4 253.53L263.5 257.31L259.3 257.31Z" fill="#74ad41"/>
<path d="M275.6 261.25L277.7 265.03L273.5 265.03Z" fill="#74ad41"/>
<path d="M289.8 265.22L291.9 269L287.7 269Z" fill="#74ad41"/>
<path d="M304 274.9L306.1 278.68L301.9 278.68Z" fill="#74ad41"/>
<path d="M318.2 275.43L320.3 279.21L316.1 279.21Z" fill="#74ad41"/>
<circle cx="218.8" cy="236.9" r="1.7" fill="#2a4486"/>
<circle cx="233" cy="235.31" r="1.7" fill="#2a4486"/>
<circle cx="247.2" cy="241.66" r="1.7" fill="#2a4486"/>
<circle cx="261.4" cy="241.66" r="1.7" fill="#2a4486"/>
<circle cx="275.6" cy="251.02" r="1.7" fill="#2a4486"/>
<circle cx="289.8" cy="258.69" r="1.7" fill="#2a4486"/>
<circle cx="304" cy="272.87" r="1.7" fill="#2a4486"/>
<circle cx="318.2" cy="275.2" r="1.7" fill="#2a4486"/>
<path d="M218.8 239L220.9 235.22L216.7 235.22Z" fill="#3c1b4e"/>
<path d="M233 230.8L235.1 227.02L230.9 227.02Z" fill="#3c1b4e"/>
<path d="M247.2 232.65L249.3 228.87L245.1 228.87Z" fill="#3c1b4e"/>
<path d="M261.4 244.5L263.5 240.72L259.3 240.72Z" fill="#3c1b4e"/>
<path d="M275.6 242.17L277.7 238.39L273.5 238.39Z" fill="#3c1b4e"/>
<path d="M289.8 260.16L291.9 256.38L287.7 256.38Z" fill="#3c1b4e"/>
<path d="M304 261.59L306.1 257.81L301.9 257.81Z" fill="#3c1b4e"/>
<path d="M318.2 266.83L320.3 263.05L316.1 263.05Z" fill="#3c1b4e"/>
<rect x="217.2" y="235.3" width="3.2" height="3.2" fill="#961239"/>
<rect x="231.4" y="233.03" width="3.2" height="3.2" fill="#961239"/>
<rect x="245.6" y="234.24" width="3.2" height="3.2" fill="#961239"/>
<rect x="259.8" y="227.52" width="3.2" height="3.2" fill="#961239"/>
<rect x="274" y="229.06" width="3.2" height="3.2" fill="#961239"/>
<rect x="288.2" y="236.09" width="3.2" height="3.2" fill="#961239"/>
<rect x="302.4" y="236.89" width="3.2" height="3.2" fill="#961239"/>
<rect x="316.6" y="235.3" width="3.2" height="3.2" fill="#961239"/>
<path d="M325.9 236.1V279.1" stroke="#1a1a1a" stroke-width="1.15"/>
<circle cx="329.8" cy="255.75" r="0.95" fill="#222"/>
<circle cx="329.8" cy="259.05" r="0.95" fill="#222"/>
<path d="M334.1 236.1V265.8" stroke="#1a1a1a" stroke-width="1.15"/>
<circle cx="338.1" cy="250.9" r="0.95" fill="#222"/></g>
<g><text x="350.6" y="181.5" font-size="11" fill="#000" font-weight="bold">F</text>
<path d="M378.9 207.9V289.8H497.3" fill="none" stroke="#1a1a1a" stroke-width="1.3"/>
<path d="M375.7 289.8H378.9M375.7 263.5H378.9M375.7 237.2H378.9M375.7 210.9H378.9M388.2 289.8V292.6M402.36 289.8V292.6M416.52 289.8V292.6M430.68 289.8V292.6M444.84 289.8V292.6M459 289.8V292.6M473.16 289.8V292.6M487.32 289.8V292.6" stroke="#1a1a1a" stroke-width="1.1"/>
<text x="372.7" y="292.8" font-size="8.6" fill="#333" stroke="#333" stroke-width="0.2" text-anchor="end" textLength="11.12" lengthAdjust="spacingAndGlyphs">0.0</text>
<text x="372.7" y="266.5" font-size="8.6" fill="#333" stroke="#333" stroke-width="0.2" text-anchor="end" textLength="11.12" lengthAdjust="spacingAndGlyphs">0.5</text>
<text x="372.7" y="240.2" font-size="8.6" fill="#333" stroke="#333" stroke-width="0.2" text-anchor="end" textLength="11.12" lengthAdjust="spacingAndGlyphs">1.0</text>
<text x="372.7" y="213.9" font-size="8.6" fill="#333" stroke="#333" stroke-width="0.2" text-anchor="end" textLength="11.12" lengthAdjust="spacingAndGlyphs">1.5</text>
<text x="388.2" y="302.8" font-size="8.6" fill="#333" stroke="#333" stroke-width="0.2" text-anchor="middle" textLength="4.21" lengthAdjust="spacingAndGlyphs">0</text>
<text x="402.36" y="302.8" font-size="8.6" fill="#333" stroke="#333" stroke-width="0.2" text-anchor="middle" textLength="10.52" lengthAdjust="spacingAndGlyphs">0.1</text>
<text x="416.52" y="302.8" font-size="8.6" fill="#333" stroke="#333" stroke-width="0.2" text-anchor="middle" textLength="10.52" lengthAdjust="spacingAndGlyphs">0.5</text>
<text x="430.68" y="302.8" font-size="8.6" fill="#333" stroke="#333" stroke-width="0.2" text-anchor="middle" textLength="4.21" lengthAdjust="spacingAndGlyphs">1</text>
<text x="444.84" y="302.8" font-size="8.6" fill="#333" stroke="#333" stroke-width="0.2" text-anchor="middle" textLength="4.21" lengthAdjust="spacingAndGlyphs">2</text>
<text x="459" y="302.8" font-size="8.6" fill="#333" stroke="#333" stroke-width="0.2" text-anchor="middle" textLength="4.21" lengthAdjust="spacingAndGlyphs">5</text>
<text x="473.16" y="302.8" font-size="8.6" fill="#333" stroke="#333" stroke-width="0.2" text-anchor="middle" textLength="8.42" lengthAdjust="spacingAndGlyphs">10</text>
<text x="487.32" y="302.8" font-size="8.6" fill="#333" stroke="#333" stroke-width="0.2" text-anchor="middle" textLength="8.42" lengthAdjust="spacingAndGlyphs">20</text>
<text transform="translate(355.9 278.2) rotate(-90)" font-size="8.2" fill="#222" stroke="#222" stroke-width="0.2" textLength="64" lengthAdjust="spacingAndGlyphs">Relative cell viability</text>
<text x="391.3" y="315.5" font-size="8.4" fill="#222" stroke="#222" stroke-width="0.2" textLength="93.9" lengthAdjust="spacingAndGlyphs">GSK126 concentration (μM)</text>
<path d="M362.4 190.5H370.9" stroke="#2a4486" stroke-width="1.3"/>
<circle cx="366.65" cy="190.5" r="1.36" fill="#2a4486"/>
<text x="374" y="193.15" font-size="6.5" fill="#222" stroke="#222" stroke-width="0.1" textLength="41.6" lengthAdjust="spacingAndGlyphs">KARPAS-422-P</text>
<path d="M419.1 190.5H427.2" stroke="#74ad41" stroke-width="1.3"/>
<path d="M423.15 188.82L424.83 191.84L421.47 191.84Z" fill="#74ad41"/>
<text x="429.8" y="193.15" font-size="6.5" fill="#222" stroke="#222" stroke-width="0.1" textLength="42.6" lengthAdjust="spacingAndGlyphs">KARPAS-422-P</text>
<path d="M362.4 199.3H370.9" stroke="#961239" stroke-width="1.3"/>
<rect x="365.37" y="198.02" width="2.56" height="2.56" fill="#961239"/>
<text x="374" y="201.95" font-size="6.5" fill="#222" stroke="#222" stroke-width="0.1" textLength="41.6" lengthAdjust="spacingAndGlyphs">KARPAS-422-R</text>
<path d="M419.1 199.3H427.2" stroke="#3c1b4e" stroke-width="1.3"/>
<path d="M423.15 200.98L424.83 197.96L421.47 197.96Z" fill="#3c1b4e"/>
<text x="429.8" y="201.95" font-size="6.5" fill="#222" stroke="#222" stroke-width="0.1" textLength="42.6" lengthAdjust="spacingAndGlyphs">KARPAS-422-R</text>
<path d="M474.2 187.7V201.8" stroke="#222" stroke-width="1.2"/>
<text x="476.6" y="197.4" font-size="6.5" fill="#333" stroke="#333" stroke-width="0.08" textLength="35.1" lengthAdjust="spacingAndGlyphs">+ Trametinib</text>
<polyline points="388.2,237.73 402.36,240.88 416.52,246.67 430.68,250.19 444.84,265.08 459,273.18 473.16,274.02 487.32,281.12" fill="none" stroke="#74ad41" stroke-width="1.6" stroke-linejoin="round"/>
<polyline points="388.2,237.73 402.36,239.3 416.52,243.51 430.68,245.88 444.84,253.3 459,265.08 473.16,276.65 487.32,282.28" fill="none" stroke="#2a4486" stroke-width="1.6" stroke-linejoin="round"/>
<polyline points="388.2,237.73 402.36,231.57 416.52,232.99 430.68,232.99 444.84,235.78 459,239.99 473.16,243.51 487.32,264.81" fill="none" stroke="#3c1b4e" stroke-width="1.6" stroke-linejoin="round"/>
<polyline points="388.2,237.73 402.36,237.73 416.52,234.89 430.68,237.2 444.84,234.31 459,235.78 473.16,237.73 487.32,236.15" fill="none" stroke="#961239" stroke-width="1.6" stroke-linejoin="round"/>
<path d="M388.2 235.1V240.36M386.6 235.1H389.8M386.6 240.36H389.8" stroke="#961239" stroke-width="0.9" fill="none"/>
<path d="M402.36 228.42V234.73M400.76 228.42H403.96M400.76 234.73H403.96" stroke="#3c1b4e" stroke-width="0.9" fill="none"/>
<path d="M416.52 229.84V236.15M414.92 229.84H418.12M414.92 236.15H418.12" stroke="#3c1b4e" stroke-width="0.9" fill="none"/>
<path d="M416.52 240.88V246.14M414.92 240.88H418.12M414.92 246.14H418.12" stroke="#2a4486" stroke-width="0.9" fill="none"/>
<path d="M430.68 227.73V238.25M429.08 227.73H432.28M429.08 238.25H432.28" stroke="#3c1b4e" stroke-width="0.9" fill="none"/>
<path d="M430.68 234.57V239.83M429.08 234.57H432.28M429.08 239.83H432.28" stroke="#961239" stroke-width="0.9" fill="none"/>
<path d="M430.68 246.51V253.87M429.08 246.51H432.28M429.08 253.87H432.28" stroke="#74ad41" stroke-width="0.9" fill="none"/>
<path d="M444.84 230.62V237.99M443.24 230.62H446.44M443.24 237.99H446.44" stroke="#961239" stroke-width="0.9" fill="none"/>
<path d="M459 261.92V268.23M457.4 261.92H460.6M457.4 268.23H460.6" stroke="#2a4486" stroke-width="0.9" fill="none"/>
<path d="M459 270.55V275.81M457.4 270.55H460.6M457.4 275.81H460.6" stroke="#74ad41" stroke-width="0.9" fill="none"/>
<path d="M473.16 235.62V239.83M471.56 235.62H474.76M471.56 239.83H474.76" stroke="#961239" stroke-width="0.9" fill="none"/>
<path d="M487.32 263.24V266.39M485.72 263.24H488.92M485.72 266.39H488.92" stroke="#3c1b4e" stroke-width="0.9" fill="none"/>
<path d="M388.2 235.63L390.3 239.41L386.1 239.41Z" fill="#74ad41"/>
<path d="M402.36 238.78L404.46 242.56L400.26 242.56Z" fill="#74ad41"/>
<path d="M416.52 244.57L418.62 248.35L414.42 248.35Z" fill="#74ad41"/>
<path d="M430.68 248.09L432.78 251.87L428.58 251.87Z" fill="#74ad41"/>
<path d="M444.84 262.98L446.94 266.76L442.74 266.76Z" fill="#74ad41"/>
<path d="M459 271.08L461.1 274.86L456.9 274.86Z" fill="#74ad41"/>
<path d="M473.16 271.92L475.26 275.7L471.06 275.7Z" fill="#74ad41"/>
<path d="M487.32 279.02L489.42 282.8L485.22 282.8Z" fill="#74ad41"/>
<circle cx="388.2" cy="237.73" r="1.7" fill="#2a4486"/>
<circle cx="402.36" cy="239.3" r="1.7" fill="#2a4486"/>
<circle cx="416.52" cy="243.51" r="1.7" fill="#2a4486"/>
<circle cx="430.68" cy="245.88" r="1.7" fill="#2a4486"/>
<circle cx="444.84" cy="253.3" r="1.7" fill="#2a4486"/>
<circle cx="459" cy="265.08" r="1.7" fill="#2a4486"/>
<circle cx="473.16" cy="276.65" r="1.7" fill="#2a4486"/>
<circle cx="487.32" cy="282.28" r="1.7" fill="#2a4486"/>
<path d="M388.2 239.83L390.3 236.05L386.1 236.05Z" fill="#3c1b4e"/>
<path d="M402.36 233.67L404.46 229.89L400.26 229.89Z" fill="#3c1b4e"/>
<path d="M416.52 235.09L418.62 231.31L414.42 231.31Z" fill="#3c1b4e"/>
<path d="M430.68 235.09L432.78 231.31L428.58 231.31Z" fill="#3c1b4e"/>
<path d="M444.84 237.88L446.94 234.1L442.74 234.1Z" fill="#3c1b4e"/>
<path d="M459 242.09L461.1 238.31L456.9 238.31Z" fill="#3c1b4e"/>
<path d="M473.16 245.61L475.26 241.83L471.06 241.83Z" fill="#3c1b4e"/>
<path d="M487.32 266.92L489.42 263.13L485.22 263.13Z" fill="#3c1b4e"/>
<rect x="386.6" y="236.13" width="3.2" height="3.2" fill="#961239"/>
<rect x="400.76" y="236.13" width="3.2" height="3.2" fill="#961239"/>
<rect x="414.92" y="233.29" width="3.2" height="3.2" fill="#961239"/>
<rect x="429.08" y="235.6" width="3.2" height="3.2" fill="#961239"/>
<rect x="443.24" y="232.71" width="3.2" height="3.2" fill="#961239"/>
<rect x="457.4" y="234.18" width="3.2" height="3.2" fill="#961239"/>
<rect x="471.56" y="236.13" width="3.2" height="3.2" fill="#961239"/>
<rect x="485.72" y="234.55" width="3.2" height="3.2" fill="#961239"/>
<path d="M496.6 235.3V282.8" stroke="#1a1a1a" stroke-width="1.15"/>
<circle cx="500.4" cy="254.9" r="0.95" fill="#222"/>
<circle cx="500.4" cy="258.2" r="0.95" fill="#222"/>
<circle cx="500.4" cy="261.5" r="0.95" fill="#222"/>
<path d="M504.4 236.6V265.5" stroke="#1a1a1a" stroke-width="1.15"/>
<text x="505.2" y="255" font-size="6.8" fill="#333" stroke="#333" stroke-width="0.05" textLength="6.8" lengthAdjust="spacingAndGlyphs">ns</text></g>
<g><text x="6.7" y="337.5" font-size="11" fill="#000" font-weight="bold">G</text>
<path d="M36.6 360.15V444.6H158.7" fill="none" stroke="#1a1a1a" stroke-width="1.3"/>
<path d="M33.4 444.6H36.6M33.4 417.45H36.6M33.4 390.3H36.6M33.4 363.15H36.6M46.7 444.6V447.4M61.34 444.6V447.4M75.98 444.6V447.4M90.62 444.6V447.4M105.26 444.6V447.4M119.9 444.6V447.4M134.54 444.6V447.4M149.18 444.6V447.4" stroke="#1a1a1a" stroke-width="1.1"/>
<text x="30.4" y="447.6" font-size="8.6" fill="#333" stroke="#333" stroke-width="0.2" text-anchor="end" textLength="11.12" lengthAdjust="spacingAndGlyphs">0.0</text>
<text x="30.4" y="420.45" font-size="8.6" fill="#333" stroke="#333" stroke-width="0.2" text-anchor="end" textLength="11.12" lengthAdjust="spacingAndGlyphs">0.5</text>
<text x="30.4" y="393.3" font-size="8.6" fill="#333" stroke="#333" stroke-width="0.2" text-anchor="end" textLength="11.12" lengthAdjust="spacingAndGlyphs">1.0</text>
<text x="30.4" y="366.15" font-size="8.6" fill="#333" stroke="#333" stroke-width="0.2" text-anchor="end" textLength="11.12" lengthAdjust="spacingAndGlyphs">1.5</text>
<text x="46.7" y="457.6" font-size="8.6" fill="#333" stroke="#333" stroke-width="0.2" text-anchor="middle" textLength="4.21" lengthAdjust="spacingAndGlyphs">0</text>
<text x="61.34" y="457.6" font-size="8.6" fill="#333" stroke="#333" stroke-width="0.2" text-anchor="middle" textLength="10.52" lengthAdjust="spacingAndGlyphs">0.1</text>
<text x="75.98" y="457.6" font-size="8.6" fill="#333" stroke="#333" stroke-width="0.2" text-anchor="middle" textLength="10.52" lengthAdjust="spacingAndGlyphs">0.5</text>
<text x="90.62" y="457.6" font-size="8.6" fill="#333" stroke="#333" stroke-width="0.2" text-anchor="middle" textLength="4.21" lengthAdjust="spacingAndGlyphs">1</text>
<text x="105.26" y="457.6" font-size="8.6" fill="#333" stroke="#333" stroke-width="0.2" text-anchor="middle" textLength="4.21" lengthAdjust="spacingAndGlyphs">2</text>
<text x="119.9" y="457.6" font-size="8.6" fill="#333" stroke="#333" stroke-width="0.2" text-anchor="middle" textLength="4.21" lengthAdjust="spacingAndGlyphs">5</text>
<text x="134.54" y="457.6" font-size="8.6" fill="#333" stroke="#333" stroke-width="0.2" text-anchor="middle" textLength="8.42" lengthAdjust="spacingAndGlyphs">10</text>
<text x="149.18" y="457.6" font-size="8.6" fill="#333" stroke="#333" stroke-width="0.2" text-anchor="middle" textLength="8.42" lengthAdjust="spacingAndGlyphs">20</text>
<text transform="translate(14.3 433.2) rotate(-90)" font-size="8.2" fill="#222" stroke="#222" stroke-width="0.2" textLength="65.7" lengthAdjust="spacingAndGlyphs">Relative cell survival</text>
<text x="51.2" y="470.4" font-size="8.4" fill="#222" stroke="#222" stroke-width="0.2" textLength="94" lengthAdjust="spacingAndGlyphs">GSK126 concentration (μM)</text>
<path d="M28 343.8H36.8" stroke="#2a4486" stroke-width="1.3"/>
<circle cx="32.4" cy="343.8" r="1.36" fill="#2a4486"/>
<text x="39.3" y="346.45" font-size="6.5" fill="#222" stroke="#222" stroke-width="0.1" textLength="37.3" lengthAdjust="spacingAndGlyphs">SU-DHL-10-P</text>
<path d="M79.8 343.8H88.5" stroke="#74ad41" stroke-width="1.3"/>
<path d="M84.15 342.12L85.83 345.14L82.47 345.14Z" fill="#74ad41"/>
<text x="90.2" y="346.45" font-size="6.5" fill="#222" stroke="#222" stroke-width="0.1" textLength="37.5" lengthAdjust="spacingAndGlyphs">SU-DHL-10-P</text>
<path d="M28 352.5H36.8" stroke="#961239" stroke-width="1.3"/>
<rect x="31.12" y="351.22" width="2.56" height="2.56" fill="#961239"/>
<text x="39.3" y="355.15" font-size="6.5" fill="#222" stroke="#222" stroke-width="0.1" textLength="37.3" lengthAdjust="spacingAndGlyphs">SU-DHL-10-R</text>
<path d="M79.8 352.5H88.5" stroke="#3c1b4e" stroke-width="1.3"/>
<path d="M84.15 354.18L85.83 351.16L82.47 351.16Z" fill="#3c1b4e"/>
<text x="90.2" y="355.15" font-size="6.5" fill="#222" stroke="#222" stroke-width="0.1" textLength="37.5" lengthAdjust="spacingAndGlyphs">SU-DHL-10-R</text>
<path d="M130.2 340.8V355.2" stroke="#222" stroke-width="1.2"/>
<text x="132.2" y="350.3" font-size="6.5" fill="#333" stroke="#333" stroke-width="0.08" textLength="30.6" lengthAdjust="spacingAndGlyphs">+ Linsitinib</text>
<polyline points="46.7,390.3 61.34,401.7 75.98,401.7 90.62,410.28 105.26,415.12 119.9,408.76 134.54,420.82 149.18,422.88" fill="none" stroke="#74ad41" stroke-width="1.6" stroke-linejoin="round"/>
<polyline points="46.7,390.3 61.34,389.38 75.98,400.07 90.62,402.52 105.26,405.78 119.9,408.76 134.54,415.12 149.18,422.88" fill="none" stroke="#2a4486" stroke-width="1.6" stroke-linejoin="round"/>
<polyline points="46.7,390.3 61.34,391.39 75.98,397.36 90.62,395.19 105.26,396.54 119.9,395.35 134.54,401.81 149.18,398.45" fill="none" stroke="#3c1b4e" stroke-width="1.6" stroke-linejoin="round"/>
<polyline points="46.7,390.3 61.34,384.87 75.98,387.04 90.62,384.87 105.26,383.02 119.9,381.34 134.54,376.94 149.18,374.12" fill="none" stroke="#961239" stroke-width="1.6" stroke-linejoin="round"/>
<path d="M46.7 385.96V394.64M45.1 385.96H48.3M45.1 394.64H48.3" stroke="#2a4486" stroke-width="0.9" fill="none"/>
<path d="M61.34 398.45V404.96M59.74 398.45H62.94M59.74 404.96H62.94" stroke="#74ad41" stroke-width="0.9" fill="none"/>
<path d="M75.98 395.19V399.53M74.38 395.19H77.58M74.38 399.53H77.58" stroke="#3c1b4e" stroke-width="0.9" fill="none"/>
<path d="M105.26 380.31V385.74M103.66 380.31H106.86M103.66 385.74H106.86" stroke="#961239" stroke-width="0.9" fill="none"/>
<path d="M105.26 412.4V417.83M103.66 412.4H106.86M103.66 417.83H106.86" stroke="#74ad41" stroke-width="0.9" fill="none"/>
<path d="M119.9 394.26V396.44M118.3 394.26H121.5M118.3 396.44H121.5" stroke="#3c1b4e" stroke-width="0.9" fill="none"/>
<path d="M75.98 400.07V403.33M74.38 400.07H77.58M74.38 403.33H77.58" stroke="#74ad41" stroke-width="0.9" fill="none"/>
<path d="M46.7 388.2L48.8 391.98L44.6 391.98Z" fill="#74ad41"/>
<path d="M61.34 399.6L63.44 403.38L59.24 403.38Z" fill="#74ad41"/>
<path d="M75.98 399.6L78.08 403.38L73.88 403.38Z" fill="#74ad41"/>
<path d="M90.62 408.18L92.72 411.96L88.52 411.96Z" fill="#74ad41"/>
<path d="M105.26 413.02L107.36 416.8L103.16 416.8Z" fill="#74ad41"/>
<path d="M119.9 406.66L122 410.44L117.8 410.44Z" fill="#74ad41"/>
<path d="M134.54 418.72L136.64 422.5L132.44 422.5Z" fill="#74ad41"/>
<path d="M149.18 420.78L151.28 424.56L147.08 424.56Z" fill="#74ad41"/>
<circle cx="46.7" cy="390.3" r="1.7" fill="#2a4486"/>
<circle cx="61.34" cy="389.38" r="1.7" fill="#2a4486"/>
<circle cx="75.98" cy="400.07" r="1.7" fill="#2a4486"/>
<circle cx="90.62" cy="402.52" r="1.7" fill="#2a4486"/>
<circle cx="105.26" cy="405.78" r="1.7" fill="#2a4486"/>
<circle cx="119.9" cy="408.76" r="1.7" fill="#2a4486"/>
<circle cx="134.54" cy="415.12" r="1.7" fill="#2a4486"/>
<circle cx="149.18" cy="422.88" r="1.7" fill="#2a4486"/>
<path d="M46.7 392.4L48.8 388.62L44.6 388.62Z" fill="#3c1b4e"/>
<path d="M61.34 393.49L63.44 389.71L59.24 389.71Z" fill="#3c1b4e"/>
<path d="M75.98 399.46L78.08 395.68L73.88 395.68Z" fill="#3c1b4e"/>
<path d="M90.62 397.29L92.72 393.51L88.52 393.51Z" fill="#3c1b4e"/>
<path d="M105.26 398.64L107.36 394.86L103.16 394.86Z" fill="#3c1b4e"/>
<path d="M119.9 397.45L122 393.67L117.8 393.67Z" fill="#3c1b4e"/>
<path d="M134.54 403.91L136.64 400.13L132.44 400.13Z" fill="#3c1b4e"/>
<path d="M149.18 400.55L151.28 396.77L147.08 396.77Z" fill="#3c1b4e"/>
<rect x="45.1" y="388.7" width="3.2" height="3.2" fill="#961239"/>
<rect x="59.74" y="383.27" width="3.2" height="3.2" fill="#961239"/>
<rect x="74.38" y="385.44" width="3.2" height="3.2" fill="#961239"/>
<rect x="89.02" y="383.27" width="3.2" height="3.2" fill="#961239"/>
<rect x="103.66" y="381.42" width="3.2" height="3.2" fill="#961239"/>
<rect x="118.3" y="379.74" width="3.2" height="3.2" fill="#961239"/>
<rect x="132.94" y="375.34" width="3.2" height="3.2" fill="#961239"/>
<rect x="147.58" y="372.52" width="3.2" height="3.2" fill="#961239"/>
<path d="M156.7 372.2V424.1" stroke="#1a1a1a" stroke-width="1.15"/>
<path d="M161.1 372.2V400.6" stroke="#1a1a1a" stroke-width="1.15"/>
<circle cx="166.9" cy="385.2" r="0.95" fill="#222"/>
<circle cx="166.9" cy="388.5" r="0.95" fill="#222"/>
<circle cx="166.9" cy="391.8" r="0.95" fill="#222"/></g>
<g><text x="179.4" y="337.5" font-size="11" fill="#000" font-weight="bold">H</text>
<path d="M209.1 362.35V444.4H328.8" fill="none" stroke="#1a1a1a" stroke-width="1.3"/>
<path d="M205.9 444.4H209.1M205.9 418.05H209.1M205.9 391.7H209.1M205.9 365.35H209.1M218.6 444.4V447.2M232.8 444.4V447.2M247 444.4V447.2M261.2 444.4V447.2M275.4 444.4V447.2M289.6 444.4V447.2M303.8 444.4V447.2M318 444.4V447.2" stroke="#1a1a1a" stroke-width="1.1"/>
<text x="202.9" y="447.4" font-size="8.6" fill="#333" stroke="#333" stroke-width="0.2" text-anchor="end" textLength="11.12" lengthAdjust="spacingAndGlyphs">0.0</text>
<text x="202.9" y="421.05" font-size="8.6" fill="#333" stroke="#333" stroke-width="0.2" text-anchor="end" textLength="11.12" lengthAdjust="spacingAndGlyphs">0.5</text>
<text x="202.9" y="394.7" font-size="8.6" fill="#333" stroke="#333" stroke-width="0.2" text-anchor="end" textLength="11.12" lengthAdjust="spacingAndGlyphs">1.0</text>
<text x="202.9" y="368.35" font-size="8.6" fill="#333" stroke="#333" stroke-width="0.2" text-anchor="end" textLength="11.12" lengthAdjust="spacingAndGlyphs">1.5</text>
<text x="218.6" y="457.4" font-size="8.6" fill="#333" stroke="#333" stroke-width="0.2" text-anchor="middle" textLength="4.21" lengthAdjust="spacingAndGlyphs">0</text>
<text x="232.8" y="457.4" font-size="8.6" fill="#333" stroke="#333" stroke-width="0.2" text-anchor="middle" textLength="10.52" lengthAdjust="spacingAndGlyphs">0.1</text>
<text x="247" y="457.4" font-size="8.6" fill="#333" stroke="#333" stroke-width="0.2" text-anchor="middle" textLength="10.52" lengthAdjust="spacingAndGlyphs">0.5</text>
<text x="261.2" y="457.4" font-size="8.6" fill="#333" stroke="#333" stroke-width="0.2" text-anchor="middle" textLength="4.21" lengthAdjust="spacingAndGlyphs">1</text>
<text x="275.4" y="457.4" font-size="8.6" fill="#333" stroke="#333" stroke-width="0.2" text-anchor="middle" textLength="4.21" lengthAdjust="spacingAndGlyphs">2</text>
<text x="289.6" y="457.4" font-size="8.6" fill="#333" stroke="#333" stroke-width="0.2" text-anchor="middle" textLength="4.21" lengthAdjust="spacingAndGlyphs">5</text>
<text x="303.8" y="457.4" font-size="8.6" fill="#333" stroke="#333" stroke-width="0.2" text-anchor="middle" textLength="8.42" lengthAdjust="spacingAndGlyphs">10</text>
<text x="318" y="457.4" font-size="8.6" fill="#333" stroke="#333" stroke-width="0.2" text-anchor="middle" textLength="8.42" lengthAdjust="spacingAndGlyphs">20</text>
<text transform="translate(186.3 433.2) rotate(-90)" font-size="8.2" fill="#222" stroke="#222" stroke-width="0.2" textLength="64.9" lengthAdjust="spacingAndGlyphs">Relative cell viability</text>
<text x="222.2" y="470.4" font-size="8.4" fill="#222" stroke="#222" stroke-width="0.2" textLength="94.2" lengthAdjust="spacingAndGlyphs">GSK126 concentration (μM)</text>
<path d="M185.7 345.1H194.1" stroke="#2a4486" stroke-width="1.3"/>
<circle cx="189.9" cy="345.1" r="1.36" fill="#2a4486"/>
<text x="197" y="347.75" font-size="6.5" fill="#222" stroke="#222" stroke-width="0.1" textLength="42.7" lengthAdjust="spacingAndGlyphs">WSU-DLCL-2-P</text>
<path d="M242.7 345.1H251.9" stroke="#74ad41" stroke-width="1.3"/>
<path d="M247.3 343.42L248.98 346.44L245.62 346.44Z" fill="#74ad41"/>
<text x="253.5" y="347.75" font-size="6.5" fill="#222" stroke="#222" stroke-width="0.1" textLength="43.8" lengthAdjust="spacingAndGlyphs">WSU-DLCL-2-P</text>
<path d="M185.7 354H194.1" stroke="#961239" stroke-width="1.3"/>
<rect x="188.62" y="352.72" width="2.56" height="2.56" fill="#961239"/>
<text x="197" y="356.65" font-size="6.5" fill="#222" stroke="#222" stroke-width="0.1" textLength="42.7" lengthAdjust="spacingAndGlyphs">WSU-DLCL-2-R</text>
<path d="M242.7 354H251.9" stroke="#3c1b4e" stroke-width="1.3"/>
<path d="M247.3 355.68L248.98 352.66L245.62 352.66Z" fill="#3c1b4e"/>
<text x="253.5" y="356.65" font-size="6.5" fill="#222" stroke="#222" stroke-width="0.1" textLength="43.8" lengthAdjust="spacingAndGlyphs">WSU-DLCL-2-R</text>
<path d="M299 342.3V356.5" stroke="#222" stroke-width="1.2"/>
<text x="301.2" y="351.2" font-size="6.5" fill="#333" stroke="#333" stroke-width="0.08" textLength="30.6" lengthAdjust="spacingAndGlyphs">+ Linsitinib</text>
<polyline points="218.6,391.7 232.8,397.5 247,401.19 261.2,412.25 275.4,421.53 289.6,421.53 303.8,425.43 318,433.33" fill="none" stroke="#74ad41" stroke-width="1.6" stroke-linejoin="round"/>
<polyline points="218.6,391.7 232.8,391.7 247,391.7 261.2,399.82 275.4,403.93 289.6,411.41 303.8,423.85 318,432.38" fill="none" stroke="#2a4486" stroke-width="1.6" stroke-linejoin="round"/>
<polyline points="218.6,391.7 232.8,391.7 247,391.7 261.2,401.71 275.4,412.99 289.6,413.73 303.8,413.73 318,411.73" fill="none" stroke="#3c1b4e" stroke-width="1.6" stroke-linejoin="round"/>
<polyline points="218.6,391.7 232.8,393.02 247,391.17 261.2,390.38 275.4,389.59 289.6,388.8 303.8,396.6 318,398.55" fill="none" stroke="#961239" stroke-width="1.6" stroke-linejoin="round"/>
<path d="M218.6 389.06V394.33M217 389.06H220.2M217 394.33H220.2" stroke="#961239" stroke-width="0.9" fill="none"/>
<path d="M261.2 387.22V393.54M259.6 387.22H262.8M259.6 393.54H262.8" stroke="#961239" stroke-width="0.9" fill="none"/>
<path d="M261.2 399.08V404.35M259.6 399.08H262.8M259.6 404.35H262.8" stroke="#3c1b4e" stroke-width="0.9" fill="none"/>
<path d="M275.4 384.85V394.33M273.8 384.85H277M273.8 394.33H277" stroke="#961239" stroke-width="0.9" fill="none"/>
<path d="M275.4 418.37V424.69M273.8 418.37H277M273.8 424.69H277" stroke="#74ad41" stroke-width="0.9" fill="none"/>
<path d="M289.6 410.57V416.89M288 410.57H291.2M288 416.89H291.2" stroke="#3c1b4e" stroke-width="0.9" fill="none"/>
<path d="M247 398.55V403.82M245.4 398.55H248.6M245.4 403.82H248.6" stroke="#74ad41" stroke-width="0.9" fill="none"/>
<path d="M289.6 387.22V390.38M288 387.22H291.2M288 390.38H291.2" stroke="#961239" stroke-width="0.9" fill="none"/>
<path d="M318 410.67V412.78M316.4 410.67H319.6M316.4 412.78H319.6" stroke="#3c1b4e" stroke-width="0.9" fill="none"/>
<path d="M289.6 409.3V413.52M288 409.3H291.2M288 413.52H291.2" stroke="#2a4486" stroke-width="0.9" fill="none"/>
<path d="M218.6 389.6L220.7 393.38L216.5 393.38Z" fill="#74ad41"/>
<path d="M232.8 395.4L234.9 399.18L230.7 399.18Z" fill="#74ad41"/>
<path d="M247 399.09L249.1 402.87L244.9 402.87Z" fill="#74ad41"/>
<path d="M261.2 410.15L263.3 413.93L259.1 413.93Z" fill="#74ad41"/>
<path d="M275.4 419.43L277.5 423.21L273.3 423.21Z" fill="#74ad41"/>
<path d="M289.6 419.43L291.7 423.21L287.5 423.21Z" fill="#74ad41"/>
<path d="M303.8 423.33L305.9 427.11L301.7 427.11Z" fill="#74ad41"/>
<path d="M318 431.23L320.1 435.01L315.9 435.01Z" fill="#74ad41"/>
<circle cx="218.6" cy="391.7" r="1.7" fill="#2a4486"/>
<circle cx="232.8" cy="391.7" r="1.7" fill="#2a4486"/>
<circle cx="247" cy="391.7" r="1.7" fill="#2a4486"/>
<circle cx="261.2" cy="399.82" r="1.7" fill="#2a4486"/>
<circle cx="275.4" cy="403.93" r="1.7" fill="#2a4486"/>
<circle cx="289.6" cy="411.41" r="1.7" fill="#2a4486"/>
<circle cx="303.8" cy="423.85" r="1.7" fill="#2a4486"/>
<circle cx="318" cy="432.38" r="1.7" fill="#2a4486"/>
<path d="M218.6 393.8L220.7 390.02L216.5 390.02Z" fill="#3c1b4e"/>
<path d="M232.8 393.8L234.9 390.02L230.7 390.02Z" fill="#3c1b4e"/>
<path d="M247 393.8L249.1 390.02L244.9 390.02Z" fill="#3c1b4e"/>
<path d="M261.2 403.81L263.3 400.03L259.1 400.03Z" fill="#3c1b4e"/>
<path d="M275.4 415.09L277.5 411.31L273.3 411.31Z" fill="#3c1b4e"/>
<path d="M289.6 415.83L291.7 412.05L287.5 412.05Z" fill="#3c1b4e"/>
<path d="M303.8 415.83L305.9 412.05L301.7 412.05Z" fill="#3c1b4e"/>
<path d="M318 413.83L320.1 410.05L315.9 410.05Z" fill="#3c1b4e"/>
<rect x="217" y="390.1" width="3.2" height="3.2" fill="#961239"/>
<rect x="231.2" y="391.42" width="3.2" height="3.2" fill="#961239"/>
<rect x="245.4" y="389.57" width="3.2" height="3.2" fill="#961239"/>
<rect x="259.6" y="388.78" width="3.2" height="3.2" fill="#961239"/>
<rect x="273.8" y="387.99" width="3.2" height="3.2" fill="#961239"/>
<rect x="288" y="387.2" width="3.2" height="3.2" fill="#961239"/>
<rect x="302.2" y="395" width="3.2" height="3.2" fill="#961239"/>
<rect x="316.4" y="396.95" width="3.2" height="3.2" fill="#961239"/>
<path d="M325.9 398.8V436.9" stroke="#1a1a1a" stroke-width="1.15"/>
<circle cx="329.8" cy="413.1" r="0.95" fill="#222"/>
<circle cx="329.8" cy="416.4" r="0.95" fill="#222"/>
<circle cx="329.8" cy="419.7" r="0.95" fill="#222"/>
<path d="M333.4 399.3V412.4" stroke="#1a1a1a" stroke-width="1.15"/>
<circle cx="338.1" cy="403.85" r="0.95" fill="#222"/>
<circle cx="338.1" cy="407.15" r="0.95" fill="#222"/></g>
<g><text x="350" y="337.5" font-size="11" fill="#000" font-weight="bold">I</text>
<path d="M379.4 362.65V444.4H497.2" fill="none" stroke="#1a1a1a" stroke-width="1.3"/>
<path d="M376.2 444.4H379.4M376.2 418.15H379.4M376.2 391.9H379.4M376.2 365.65H379.4M388.4 444.4V447.2M402.56 444.4V447.2M416.72 444.4V447.2M430.88 444.4V447.2M445.04 444.4V447.2M459.2 444.4V447.2M473.36 444.4V447.2M487.52 444.4V447.2" stroke="#1a1a1a" stroke-width="1.1"/>
<text x="373.2" y="447.4" font-size="8.6" fill="#333" stroke="#333" stroke-width="0.2" text-anchor="end" textLength="11.12" lengthAdjust="spacingAndGlyphs">0.0</text>
<text x="373.2" y="421.15" font-size="8.6" fill="#333" stroke="#333" stroke-width="0.2" text-anchor="end" textLength="11.12" lengthAdjust="spacingAndGlyphs">0.5</text>
<text x="373.2" y="394.9" font-size="8.6" fill="#333" stroke="#333" stroke-width="0.2" text-anchor="end" textLength="11.12" lengthAdjust="spacingAndGlyphs">1.0</text>
<text x="373.2" y="368.65" font-size="8.6" fill="#333" stroke="#333" stroke-width="0.2" text-anchor="end" textLength="11.12" lengthAdjust="spacingAndGlyphs">1.5</text>
<text x="388.4" y="457.4" font-size="8.6" fill="#333" stroke="#333" stroke-width="0.2" text-anchor="middle" textLength="4.21" lengthAdjust="spacingAndGlyphs">0</text>
<text x="402.56" y="457.4" font-size="8.6" fill="#333" stroke="#333" stroke-width="0.2" text-anchor="middle" textLength="10.52" lengthAdjust="spacingAndGlyphs">0.1</text>
<text x="416.72" y="457.4" font-size="8.6" fill="#333" stroke="#333" stroke-width="0.2" text-anchor="middle" textLength="10.52" lengthAdjust="spacingAndGlyphs">0.5</text>
<text x="430.88" y="457.4" font-size="8.6" fill="#333" stroke="#333" stroke-width="0.2" text-anchor="middle" textLength="4.21" lengthAdjust="spacingAndGlyphs">1</text>
<text x="445.04" y="457.4" font-size="8.6" fill="#333" stroke="#333" stroke-width="0.2" text-anchor="middle" textLength="4.21" lengthAdjust="spacingAndGlyphs">2</text>
<text x="459.2" y="457.4" font-size="8.6" fill="#333" stroke="#333" stroke-width="0.2" text-anchor="middle" textLength="4.21" lengthAdjust="spacingAndGlyphs">5</text>
<text x="473.36" y="457.4" font-size="8.6" fill="#333" stroke="#333" stroke-width="0.2" text-anchor="middle" textLength="8.42" lengthAdjust="spacingAndGlyphs">10</text>
<text x="487.52" y="457.4" font-size="8.6" fill="#333" stroke="#333" stroke-width="0.2" text-anchor="middle" textLength="8.42" lengthAdjust="spacingAndGlyphs">20</text>
<text transform="translate(355.9 433.2) rotate(-90)" font-size="8.2" fill="#222" stroke="#222" stroke-width="0.2" textLength="64.9" lengthAdjust="spacingAndGlyphs">Relative cell viability</text>
<text x="391.3" y="470.4" font-size="8.4" fill="#222" stroke="#222" stroke-width="0.2" textLength="93.9" lengthAdjust="spacingAndGlyphs">GSK126 concentration (μM)</text>
<path d="M362.4 346.3H370.9" stroke="#2a4486" stroke-width="1.3"/>
<circle cx="366.65" cy="346.3" r="1.36" fill="#2a4486"/>
<text x="374" y="348.95" font-size="6.5" fill="#222" stroke="#222" stroke-width="0.1" textLength="41.6" lengthAdjust="spacingAndGlyphs">KARPAS-422-P</text>
<path d="M419.1 346.3H427.2" stroke="#74ad41" stroke-width="1.3"/>
<path d="M423.15 344.62L424.83 347.64L421.47 347.64Z" fill="#74ad41"/>
<text x="429.8" y="348.95" font-size="6.5" fill="#222" stroke="#222" stroke-width="0.1" textLength="42.6" lengthAdjust="spacingAndGlyphs">KARPAS-422-P</text>
<path d="M362.4 355H370.9" stroke="#961239" stroke-width="1.3"/>
<rect x="365.37" y="353.72" width="2.56" height="2.56" fill="#961239"/>
<text x="374" y="357.65" font-size="6.5" fill="#222" stroke="#222" stroke-width="0.1" textLength="41.6" lengthAdjust="spacingAndGlyphs">KARPAS-422-R</text>
<path d="M419.1 355H427.2" stroke="#3c1b4e" stroke-width="1.3"/>
<path d="M423.15 356.68L424.83 353.66L421.47 353.66Z" fill="#3c1b4e"/>
<text x="429.8" y="357.65" font-size="6.5" fill="#222" stroke="#222" stroke-width="0.1" textLength="42.6" lengthAdjust="spacingAndGlyphs">KARPAS-422-R</text>
<path d="M473.6 342.7V357.6" stroke="#222" stroke-width="1.2"/>
<text x="475.6" y="353" font-size="6.5" fill="#333" stroke="#333" stroke-width="0.08" textLength="30.1" lengthAdjust="spacingAndGlyphs">+ Linsitinib</text>
<polyline points="388.4,392.42 402.56,401.35 416.72,403.97 430.88,412.38 445.04,417.62 459.2,423.61 473.36,432.43 487.52,433.53" fill="none" stroke="#74ad41" stroke-width="1.6" stroke-linejoin="round"/>
<polyline points="388.4,392.42 402.56,388.75 416.72,400.3 430.88,400.82 445.04,406.07 459.2,416.89 473.36,428.65 487.52,437.73" fill="none" stroke="#2a4486" stroke-width="1.6" stroke-linejoin="round"/>
<polyline points="388.4,392.42 402.56,390.85 416.72,388.75 430.88,388.75 445.04,384.55 459.2,397.15 473.36,406.91 487.52,411.11" fill="none" stroke="#3c1b4e" stroke-width="1.6" stroke-linejoin="round"/>
<polyline points="388.4,392.42 402.56,392.58 416.72,388.75 430.88,388.75 445.04,389.59 459.2,391.22 473.36,387.28 487.52,383.39" fill="none" stroke="#961239" stroke-width="1.6" stroke-linejoin="round"/>
<path d="M388.4 388.22V396.62M386.8 388.22H390M386.8 396.62H390" stroke="#961239" stroke-width="0.9" fill="none"/>
<path d="M416.72 383.5V394M415.12 383.5H418.32M415.12 394H418.32" stroke="#961239" stroke-width="0.9" fill="none"/>
<path d="M430.88 384.55V392.95M429.28 384.55H432.48M429.28 392.95H432.48" stroke="#961239" stroke-width="0.9" fill="none"/>
<path d="M445.04 384.86V394.31M443.44 384.86H446.64M443.44 394.31H446.64" stroke="#961239" stroke-width="0.9" fill="none"/>
<path d="M459.2 387.54V394.89M457.6 387.54H460.8M457.6 394.89H460.8" stroke="#961239" stroke-width="0.9" fill="none"/>
<path d="M473.36 384.13V390.43M471.76 384.13H474.96M471.76 390.43H474.96" stroke="#961239" stroke-width="0.9" fill="none"/>
<path d="M487.52 378.14V388.64M485.92 378.14H489.12M485.92 388.64H489.12" stroke="#961239" stroke-width="0.9" fill="none"/>
<path d="M473.36 426.02V431.27M471.76 426.02H474.96M471.76 431.27H474.96" stroke="#2a4486" stroke-width="0.9" fill="none"/>
<path d="M402.56 387.17V390.32M400.96 387.17H404.16M400.96 390.32H404.16" stroke="#2a4486" stroke-width="0.9" fill="none"/>
<path d="M487.52 409.54V412.69M485.92 409.54H489.12M485.92 412.69H489.12" stroke="#3c1b4e" stroke-width="0.9" fill="none"/>
<path d="M388.4 390.32L390.5 394.1L386.3 394.1Z" fill="#74ad41"/>
<path d="M402.56 399.25L404.66 403.03L400.46 403.03Z" fill="#74ad41"/>
<path d="M416.72 401.87L418.82 405.65L414.62 405.65Z" fill="#74ad41"/>
<path d="M430.88 410.27L432.98 414.06L428.78 414.06Z" fill="#74ad41"/>
<path d="M445.04 415.52L447.14 419.31L442.94 419.31Z" fill="#74ad41"/>
<path d="M459.2 421.51L461.3 425.29L457.1 425.29Z" fill="#74ad41"/>
<path d="M473.36 430.33L475.46 434.11L471.26 434.11Z" fill="#74ad41"/>
<path d="M487.52 431.43L489.62 435.21L485.42 435.21Z" fill="#74ad41"/>
<circle cx="388.4" cy="392.42" r="1.7" fill="#2a4486"/>
<circle cx="402.56" cy="388.75" r="1.7" fill="#2a4486"/>
<circle cx="416.72" cy="400.3" r="1.7" fill="#2a4486"/>
<circle cx="430.88" cy="400.82" r="1.7" fill="#2a4486"/>
<circle cx="445.04" cy="406.07" r="1.7" fill="#2a4486"/>
<circle cx="459.2" cy="416.89" r="1.7" fill="#2a4486"/>
<circle cx="473.36" cy="428.65" r="1.7" fill="#2a4486"/>
<circle cx="487.52" cy="437.73" r="1.7" fill="#2a4486"/>
<path d="M388.4 394.52L390.5 390.74L386.3 390.74Z" fill="#3c1b4e"/>
<path d="M402.56 392.95L404.66 389.17L400.46 389.17Z" fill="#3c1b4e"/>
<path d="M416.72 390.85L418.82 387.07L414.62 387.07Z" fill="#3c1b4e"/>
<path d="M430.88 390.85L432.98 387.07L428.78 387.07Z" fill="#3c1b4e"/>
<path d="M445.04 386.65L447.14 382.87L442.94 382.87Z" fill="#3c1b4e"/>
<path d="M459.2 399.25L461.3 395.47L457.1 395.47Z" fill="#3c1b4e"/>
<path d="M473.36 409.01L475.46 405.23L471.26 405.23Z" fill="#3c1b4e"/>
<path d="M487.52 413.21L489.62 409.43L485.42 409.43Z" fill="#3c1b4e"/>
<rect x="386.8" y="390.82" width="3.2" height="3.2" fill="#961239"/>
<rect x="400.96" y="390.98" width="3.2" height="3.2" fill="#961239"/>
<rect x="415.12" y="387.15" width="3.2" height="3.2" fill="#961239"/>
<rect x="429.28" y="387.15" width="3.2" height="3.2" fill="#961239"/>
<rect x="443.44" y="387.99" width="3.2" height="3.2" fill="#961239"/>
<rect x="457.6" y="389.62" width="3.2" height="3.2" fill="#961239"/>
<rect x="471.76" y="385.68" width="3.2" height="3.2" fill="#961239"/>
<rect x="485.92" y="381.79" width="3.2" height="3.2" fill="#961239"/>
<path d="M495.7 385V438.1" stroke="#1a1a1a" stroke-width="1.15"/>
<circle cx="499.9" cy="404.9" r="0.95" fill="#222"/>
<circle cx="499.9" cy="408.2" r="0.95" fill="#222"/>
<circle cx="499.9" cy="411.5" r="0.95" fill="#222"/>
<path d="M503.5 384.6V413.5" stroke="#1a1a1a" stroke-width="1.15"/>
<text x="505.6" y="402" font-size="6.8" fill="#333" stroke="#333" stroke-width="0.05" textLength="6.8" lengthAdjust="spacingAndGlyphs">ns</text></g>
<rect x="0.5" y="0.5" width="519" height="480" fill="none" stroke="#000" stroke-width="1.2"/>
</svg>
</body></html>
